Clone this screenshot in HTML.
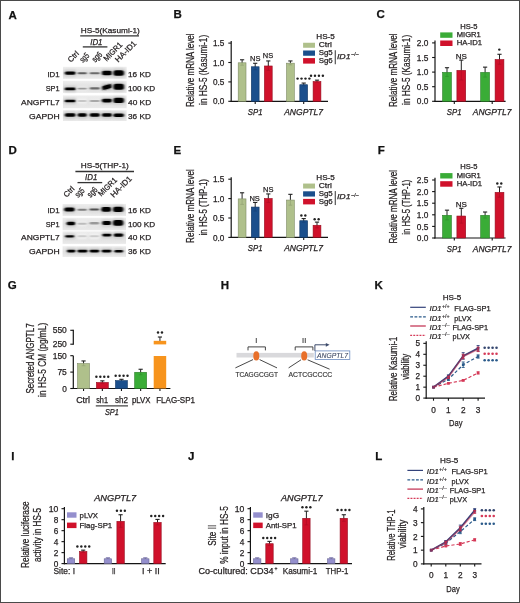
<!DOCTYPE html><html><head><meta charset="utf-8"><style>html,body{margin:0;padding:0;background:#fff;}svg{display:block;}text{font-family:"Liberation Sans",sans-serif;}</style></head><body>
<svg width="520" height="603" viewBox="0 0 520 603">
<defs>
<filter id="bandblur" x="-30%" y="-150%" width="160%" height="400%"><feGaussianBlur stdDeviation="0.9 0.6"/></filter>
<filter id="haloblur" x="-30%" y="-100%" width="160%" height="300%"><feGaussianBlur stdDeviation="1.2"/></filter>
<filter id="soft" x="-5%" y="-20%" width="110%" height="140%"><feGaussianBlur stdDeviation="0.5"/></filter>
<linearGradient id="stripg" x1="0" y1="0" x2="0" y2="1"><stop offset="0" stop-color="#eeeeee"/><stop offset="0.5" stop-color="#e0e0e0"/><stop offset="1" stop-color="#eaeaea"/></linearGradient>
</defs>
<rect x="0" y="0" width="520" height="603" fill="#fff"/><g style="filter:blur(0.3px)">
<text x="8.40" y="18.60" font-size="11.5" fill="#111" stroke="#111" stroke-width="0.25" font-weight="bold">A</text>
<text x="173.60" y="18.40" font-size="11.5" fill="#111" stroke="#111" stroke-width="0.25" font-weight="bold">B</text>
<text x="376.50" y="18.40" font-size="11.5" fill="#111" stroke="#111" stroke-width="0.25" font-weight="bold">C</text>
<text x="8.40" y="154.00" font-size="11.5" fill="#111" stroke="#111" stroke-width="0.25" font-weight="bold">D</text>
<text x="173.60" y="154.00" font-size="11.5" fill="#111" stroke="#111" stroke-width="0.25" font-weight="bold">E</text>
<text x="377.80" y="154.00" font-size="11.5" fill="#111" stroke="#111" stroke-width="0.25" font-weight="bold">F</text>
<text x="7.80" y="288.80" font-size="11.5" fill="#111" stroke="#111" stroke-width="0.25" font-weight="bold">G</text>
<text x="220.80" y="288.80" font-size="11.5" fill="#111" stroke="#111" stroke-width="0.25" font-weight="bold">H</text>
<text x="374.60" y="288.80" font-size="11.5" fill="#111" stroke="#111" stroke-width="0.25" font-weight="bold">K</text>
<text x="11.20" y="460.40" font-size="11.5" fill="#111" stroke="#111" stroke-width="0.25" font-weight="bold">I</text>
<text x="188.00" y="460.40" font-size="11.5" fill="#111" stroke="#111" stroke-width="0.25" font-weight="bold">J</text>
<text x="375.20" y="460.40" font-size="11.5" fill="#111" stroke="#111" stroke-width="0.25" font-weight="bold">L</text>
<text x="80.80" y="32.50" font-size="8" fill="#231f20" stroke="#231f20" stroke-width="0.25" textLength="59.00" lengthAdjust="spacingAndGlyphs">HS-5(Kasumi-1)</text>
<line x1="80.20" y1="35.80" x2="139.00" y2="35.80" stroke="#333" stroke-width="1.3" />
<text x="90.20" y="44.60" font-size="8.8" fill="#231f20" stroke="#231f20" stroke-width="0.25" font-style="italic" textLength="12.30" lengthAdjust="spacingAndGlyphs">ID1</text>
<line x1="82.80" y1="46.90" x2="107.40" y2="46.90" stroke="#333" stroke-width="1.3" />
<text x="70.80" y="62.65" font-size="7.6" fill="#231f20" stroke="#231f20" stroke-width="0.25" textLength="12.11" lengthAdjust="spacingAndGlyphs" transform="rotate(-45 70.80 62.65)">Ctrl</text>
<text x="82.95" y="63.00" font-size="8.6" fill="#231f20" stroke="#231f20" stroke-width="0.25" textLength="9.68" lengthAdjust="spacingAndGlyphs" transform="rotate(-45 82.95 63.00)">sg5</text>
<text x="95.25" y="62.70" font-size="8.8" fill="#231f20" stroke="#231f20" stroke-width="0.25" textLength="10.70" lengthAdjust="spacingAndGlyphs" transform="rotate(-45 95.25 62.70)">sg6</text>
<text x="106.70" y="61.65" font-size="8.0" fill="#231f20" stroke="#231f20" stroke-width="0.25" textLength="22.90" lengthAdjust="spacingAndGlyphs" transform="rotate(-45 106.70 61.65)">MIGR1</text>
<text x="118.30" y="62.70" font-size="8.0" fill="#231f20" stroke="#231f20" stroke-width="0.25" textLength="26.45" lengthAdjust="spacingAndGlyphs" transform="rotate(-45 118.30 62.70)">HA-ID1</text>
<rect x="63.00" y="66.80" width="63.60" height="12.00" fill="url(#stripg)" filter="url(#soft)"/>
<rect x="64.00" y="69.80" width="12.40" height="6.60" rx="2" fill="rgb(204,204,204)" filter="url(#haloblur)"/>
<rect x="64.80" y="71.40" width="10.80" height="3.40" rx="1.70" fill="rgb(0,0,0)" filter="url(#bandblur)"/>
<rect x="76.80" y="70.65" width="10.80" height="5.10" rx="2" fill="rgb(223,223,223)" filter="url(#haloblur)"/>
<rect x="77.60" y="72.25" width="9.20" height="1.90" rx="0.95" fill="rgb(96,96,96)" filter="url(#bandblur)"/>
<rect x="88.90" y="70.60" width="11.80" height="5.20" rx="2" fill="rgb(225,225,225)" filter="url(#haloblur)"/>
<rect x="89.70" y="72.20" width="10.20" height="2.00" rx="1.00" fill="rgb(107,107,107)" filter="url(#bandblur)"/>
<rect x="101.10" y="69.20" width="11.90" height="7.60" rx="2" fill="rgb(204,204,204)" filter="url(#haloblur)"/>
<rect x="101.90" y="70.80" width="10.30" height="4.40" rx="2.20" fill="rgb(0,0,0)" filter="url(#bandblur)"/>
<rect x="112.60" y="68.60" width="12.20" height="8.80" rx="2" fill="rgb(204,204,204)" filter="url(#haloblur)"/>
<rect x="113.40" y="70.20" width="10.60" height="5.60" rx="2.50" fill="rgb(0,0,0)" filter="url(#bandblur)"/>
<text x="59.60" y="77.20" font-size="8" text-anchor="end" fill="#231f20" stroke="#231f20" stroke-width="0.25" textLength="12.20" lengthAdjust="spacingAndGlyphs">ID1</text>
<text x="128.00" y="77.20" font-size="8" fill="#231f20" stroke="#231f20" stroke-width="0.25" textLength="22.80" lengthAdjust="spacingAndGlyphs">16 KD</text>
<rect x="63.00" y="80.80" width="63.60" height="12.10" fill="url(#stripg)" filter="url(#soft)"/>
<rect x="64.00" y="85.90" width="12.40" height="6.00" rx="2" fill="rgb(204,204,204)" filter="url(#haloblur)"/>
<rect x="64.80" y="87.50" width="10.80" height="2.80" rx="1.40" fill="rgb(0,0,0)" filter="url(#bandblur)"/>
<rect x="76.80" y="86.05" width="10.80" height="5.10" rx="2" fill="rgb(234,234,234)" filter="url(#haloblur)"/>
<rect x="77.60" y="87.65" width="9.20" height="1.90" rx="0.95" fill="rgb(153,153,153)" filter="url(#bandblur)"/>
<rect x="88.90" y="85.65" width="11.80" height="5.50" rx="2" fill="rgb(225,225,225)" filter="url(#haloblur)"/>
<rect x="89.70" y="87.25" width="10.20" height="2.30" rx="1.15" fill="rgb(107,107,107)" filter="url(#bandblur)"/>
<rect x="101.10" y="83.20" width="11.90" height="7.60" rx="2" fill="rgb(204,204,204)" filter="url(#haloblur)"/>
<rect x="101.90" y="84.80" width="10.30" height="4.40" rx="2.20" fill="rgb(0,0,0)" filter="url(#bandblur)" transform="rotate(-15.2 107.05 87.00)"/>
<rect x="112.60" y="82.20" width="12.20" height="9.20" rx="2" fill="rgb(204,204,204)" filter="url(#haloblur)"/>
<rect x="113.40" y="83.80" width="10.60" height="6.00" rx="2.50" fill="rgb(0,0,0)" filter="url(#bandblur)"/>
<text x="59.60" y="90.90" font-size="8" text-anchor="end" fill="#231f20" stroke="#231f20" stroke-width="0.25" textLength="13.90" lengthAdjust="spacingAndGlyphs">SP1</text>
<text x="128.00" y="90.90" font-size="8" fill="#231f20" stroke="#231f20" stroke-width="0.25" textLength="27.20" lengthAdjust="spacingAndGlyphs">100 KD</text>
<rect x="63.00" y="95.40" width="63.60" height="12.80" fill="url(#stripg)" filter="url(#soft)"/>
<rect x="64.00" y="98.10" width="12.40" height="5.80" rx="2" fill="rgb(204,204,204)" filter="url(#haloblur)"/>
<rect x="64.80" y="99.70" width="10.80" height="2.60" rx="1.30" fill="rgb(0,0,0)" filter="url(#bandblur)"/>
<rect x="76.80" y="98.50" width="10.80" height="5.00" rx="2" fill="rgb(243,243,243)" filter="url(#haloblur)"/>
<rect x="77.60" y="100.10" width="9.20" height="1.80" rx="0.90" fill="rgb(198,198,198)" filter="url(#bandblur)"/>
<rect x="88.90" y="98.30" width="11.80" height="5.20" rx="2" fill="rgb(237,237,237)" filter="url(#haloblur)"/>
<rect x="89.70" y="99.90" width="10.20" height="2.00" rx="1.00" fill="rgb(168,168,168)" filter="url(#bandblur)"/>
<rect x="101.10" y="97.20" width="11.90" height="6.80" rx="2" fill="rgb(204,204,204)" filter="url(#haloblur)"/>
<rect x="101.90" y="98.80" width="10.30" height="3.60" rx="1.80" fill="rgb(0,0,0)" filter="url(#bandblur)"/>
<rect x="112.60" y="96.20" width="12.20" height="8.40" rx="2" fill="rgb(204,204,204)" filter="url(#haloblur)"/>
<rect x="113.40" y="97.80" width="10.60" height="5.20" rx="2.50" fill="rgb(0,0,0)" filter="url(#bandblur)"/>
<text x="59.60" y="104.70" font-size="8" text-anchor="end" fill="#231f20" stroke="#231f20" stroke-width="0.25" textLength="38.50" lengthAdjust="spacingAndGlyphs">ANGPTL7</text>
<text x="128.00" y="104.70" font-size="8" fill="#231f20" stroke="#231f20" stroke-width="0.25" textLength="23.20" lengthAdjust="spacingAndGlyphs">40 KD</text>
<rect x="63.00" y="110.20" width="63.60" height="10.80" fill="url(#stripg)" filter="url(#soft)"/>
<rect x="64.00" y="111.60" width="12.40" height="6.80" rx="2" fill="rgb(204,204,204)" filter="url(#haloblur)"/>
<rect x="64.80" y="113.20" width="10.80" height="3.60" rx="1.80" fill="rgb(0,0,0)" filter="url(#bandblur)"/>
<rect x="76.80" y="111.60" width="10.80" height="6.80" rx="2" fill="rgb(204,204,204)" filter="url(#haloblur)"/>
<rect x="77.60" y="113.20" width="9.20" height="3.60" rx="1.80" fill="rgb(0,0,0)" filter="url(#bandblur)"/>
<rect x="88.90" y="111.60" width="11.80" height="6.80" rx="2" fill="rgb(204,204,204)" filter="url(#haloblur)"/>
<rect x="89.70" y="113.20" width="10.20" height="3.60" rx="1.80" fill="rgb(0,0,0)" filter="url(#bandblur)"/>
<rect x="101.10" y="111.60" width="11.90" height="6.80" rx="2" fill="rgb(204,204,204)" filter="url(#haloblur)"/>
<rect x="101.90" y="113.20" width="10.30" height="3.60" rx="1.80" fill="rgb(0,0,0)" filter="url(#bandblur)"/>
<rect x="112.60" y="111.80" width="12.20" height="6.80" rx="2" fill="rgb(204,204,204)" filter="url(#haloblur)"/>
<rect x="113.40" y="113.40" width="10.60" height="3.60" rx="1.80" fill="rgb(0,0,0)" filter="url(#bandblur)"/>
<text x="59.60" y="118.50" font-size="8" text-anchor="end" fill="#231f20" stroke="#231f20" stroke-width="0.25" textLength="30.50" lengthAdjust="spacingAndGlyphs">GAPDH</text>
<text x="128.00" y="118.50" font-size="8" fill="#231f20" stroke="#231f20" stroke-width="0.25" textLength="22.80" lengthAdjust="spacingAndGlyphs">36 KD</text>
<text x="80.80" y="168.20" font-size="8" fill="#231f20" stroke="#231f20" stroke-width="0.25" textLength="48.00" lengthAdjust="spacingAndGlyphs">HS-5(THP-1)</text>
<line x1="75.40" y1="171.50" x2="134.00" y2="171.50" stroke="#333" stroke-width="1.3" />
<text x="85.00" y="180.30" font-size="8.8" fill="#231f20" stroke="#231f20" stroke-width="0.25" font-style="italic" textLength="12.30" lengthAdjust="spacingAndGlyphs">ID1</text>
<line x1="77.50" y1="182.60" x2="102.20" y2="182.60" stroke="#333" stroke-width="1.3" />
<text x="66.50" y="197.85" font-size="7.6" fill="#231f20" stroke="#231f20" stroke-width="0.25" textLength="12.11" lengthAdjust="spacingAndGlyphs" transform="rotate(-45 66.50 197.85)">Ctrl</text>
<text x="78.25" y="197.90" font-size="8.6" fill="#231f20" stroke="#231f20" stroke-width="0.25" textLength="9.68" lengthAdjust="spacingAndGlyphs" transform="rotate(-45 78.25 197.90)">sg5</text>
<text x="90.55" y="197.90" font-size="8.8" fill="#231f20" stroke="#231f20" stroke-width="0.25" textLength="10.70" lengthAdjust="spacingAndGlyphs" transform="rotate(-45 90.55 197.90)">sg6</text>
<text x="101.30" y="196.85" font-size="8.0" fill="#231f20" stroke="#231f20" stroke-width="0.25" textLength="22.90" lengthAdjust="spacingAndGlyphs" transform="rotate(-45 101.30 196.85)">MIGR1</text>
<text x="113.70" y="197.90" font-size="8.0" fill="#231f20" stroke="#231f20" stroke-width="0.25" textLength="26.45" lengthAdjust="spacingAndGlyphs" transform="rotate(-45 113.70 197.90)">HA-ID1</text>
<rect x="62.60" y="204.00" width="63.40" height="11.90" fill="url(#stripg)" filter="url(#soft)"/>
<rect x="63.50" y="206.00" width="11.90" height="7.20" rx="2" fill="rgb(204,204,204)" filter="url(#haloblur)"/>
<rect x="64.30" y="207.60" width="10.30" height="4.00" rx="2.00" fill="rgb(0,0,0)" filter="url(#bandblur)"/>
<rect x="76.70" y="207.15" width="10.90" height="5.10" rx="2" fill="rgb(229,229,229)" filter="url(#haloblur)"/>
<rect x="77.50" y="208.75" width="9.30" height="1.90" rx="0.95" fill="rgb(127,127,127)" filter="url(#bandblur)"/>
<rect x="88.70" y="206.80" width="11.30" height="5.40" rx="2" fill="rgb(220,220,220)" filter="url(#haloblur)"/>
<rect x="89.50" y="208.40" width="9.70" height="2.20" rx="1.10" fill="rgb(81,81,81)" filter="url(#bandblur)"/>
<rect x="100.50" y="205.40" width="11.60" height="8.00" rx="2" fill="rgb(204,204,204)" filter="url(#haloblur)"/>
<rect x="101.30" y="207.00" width="10.00" height="4.80" rx="2.40" fill="rgb(0,0,0)" filter="url(#bandblur)"/>
<rect x="112.20" y="205.10" width="11.90" height="8.40" rx="2" fill="rgb(204,204,204)" filter="url(#haloblur)"/>
<rect x="113.00" y="206.70" width="10.30" height="5.20" rx="2.50" fill="rgb(0,0,0)" filter="url(#bandblur)"/>
<text x="59.60" y="212.90" font-size="8" text-anchor="end" fill="#231f20" stroke="#231f20" stroke-width="0.25" textLength="12.20" lengthAdjust="spacingAndGlyphs">ID1</text>
<text x="128.00" y="212.90" font-size="8" fill="#231f20" stroke="#231f20" stroke-width="0.25" textLength="22.80" lengthAdjust="spacingAndGlyphs">16 KD</text>
<rect x="62.60" y="217.80" width="63.40" height="12.50" fill="url(#stripg)" filter="url(#soft)"/>
<rect x="65.80" y="220.10" width="10.20" height="6.80" rx="2" fill="rgb(204,204,204)" filter="url(#haloblur)"/>
<rect x="66.60" y="221.70" width="8.60" height="3.60" rx="1.80" fill="rgb(0,0,0)" filter="url(#bandblur)"/>
<rect x="76.70" y="221.15" width="10.90" height="5.10" rx="2" fill="rgb(241,241,241)" filter="url(#haloblur)"/>
<rect x="77.50" y="222.75" width="9.30" height="1.90" rx="0.95" fill="rgb(188,188,188)" filter="url(#bandblur)"/>
<rect x="88.70" y="220.40" width="11.30" height="5.80" rx="2" fill="rgb(234,234,234)" filter="url(#haloblur)"/>
<rect x="89.50" y="222.00" width="9.70" height="2.60" rx="1.30" fill="rgb(153,153,153)" filter="url(#bandblur)"/>
<rect x="101.40" y="219.50" width="10.70" height="7.20" rx="2" fill="rgb(204,204,204)" filter="url(#haloblur)"/>
<rect x="102.20" y="221.10" width="9.10" height="4.00" rx="2.00" fill="rgb(0,0,0)" filter="url(#bandblur)"/>
<rect x="112.20" y="218.50" width="11.90" height="8.80" rx="2" fill="rgb(204,204,204)" filter="url(#haloblur)"/>
<rect x="113.00" y="220.10" width="10.30" height="5.60" rx="2.50" fill="rgb(0,0,0)" filter="url(#bandblur)"/>
<text x="59.60" y="226.60" font-size="8" text-anchor="end" fill="#231f20" stroke="#231f20" stroke-width="0.25" textLength="13.90" lengthAdjust="spacingAndGlyphs">SP1</text>
<text x="128.00" y="226.60" font-size="8" fill="#231f20" stroke="#231f20" stroke-width="0.25" textLength="27.20" lengthAdjust="spacingAndGlyphs">100 KD</text>
<rect x="62.60" y="231.40" width="63.40" height="12.50" fill="url(#stripg)" filter="url(#soft)"/>
<rect x="64.40" y="233.55" width="10.60" height="5.50" rx="2" fill="rgb(204,204,204)" filter="url(#haloblur)"/>
<rect x="65.20" y="235.15" width="9.00" height="2.30" rx="1.15" fill="rgb(0,0,0)" filter="url(#bandblur)"/>
<rect x="76.70" y="233.70" width="10.90" height="5.20" rx="2" fill="rgb(244,244,244)" filter="url(#haloblur)"/>
<rect x="77.50" y="235.30" width="9.30" height="2.00" rx="1.00" fill="rgb(204,204,204)" filter="url(#bandblur)"/>
<rect x="88.70" y="233.70" width="11.30" height="5.20" rx="2" fill="rgb(244,244,244)" filter="url(#haloblur)"/>
<rect x="89.50" y="235.30" width="9.70" height="2.00" rx="1.00" fill="rgb(204,204,204)" filter="url(#bandblur)"/>
<rect x="101.60" y="232.20" width="10.60" height="5.80" rx="2" fill="rgb(204,204,204)" filter="url(#haloblur)"/>
<rect x="102.40" y="233.80" width="9.00" height="2.60" rx="1.30" fill="rgb(0,0,0)" filter="url(#bandblur)"/>
<rect x="113.00" y="231.90" width="11.10" height="6.40" rx="2" fill="rgb(204,204,204)" filter="url(#haloblur)"/>
<rect x="113.80" y="233.50" width="9.50" height="3.20" rx="1.60" fill="rgb(0,0,0)" filter="url(#bandblur)"/>
<text x="59.60" y="240.40" font-size="8" text-anchor="end" fill="#231f20" stroke="#231f20" stroke-width="0.25" textLength="38.50" lengthAdjust="spacingAndGlyphs">ANGPTL7</text>
<text x="128.00" y="240.40" font-size="8" fill="#231f20" stroke="#231f20" stroke-width="0.25" textLength="23.20" lengthAdjust="spacingAndGlyphs">40 KD</text>
<rect x="62.60" y="246.20" width="63.40" height="10.70" fill="url(#stripg)" filter="url(#soft)"/>
<rect x="66.20" y="248.10" width="10.10" height="6.00" rx="2" fill="rgb(204,204,204)" filter="url(#haloblur)"/>
<rect x="67.00" y="249.70" width="8.50" height="2.80" rx="1.40" fill="rgb(0,0,0)" filter="url(#bandblur)"/>
<rect x="76.70" y="248.10" width="11.70" height="6.00" rx="2" fill="rgb(204,204,204)" filter="url(#haloblur)"/>
<rect x="77.50" y="249.70" width="10.10" height="2.80" rx="1.40" fill="rgb(0,0,0)" filter="url(#bandblur)"/>
<rect x="88.80" y="248.10" width="11.30" height="6.00" rx="2" fill="rgb(204,204,204)" filter="url(#haloblur)"/>
<rect x="89.60" y="249.70" width="9.70" height="2.80" rx="1.40" fill="rgb(0,0,0)" filter="url(#bandblur)"/>
<rect x="100.90" y="248.10" width="11.30" height="6.00" rx="2" fill="rgb(204,204,204)" filter="url(#haloblur)"/>
<rect x="101.70" y="249.70" width="9.70" height="2.80" rx="1.40" fill="rgb(0,0,0)" filter="url(#bandblur)"/>
<rect x="113.70" y="248.40" width="10.10" height="5.60" rx="2" fill="rgb(204,204,204)" filter="url(#haloblur)"/>
<rect x="114.50" y="250.00" width="8.50" height="2.40" rx="1.20" fill="rgb(0,0,0)" filter="url(#bandblur)"/>
<text x="59.60" y="254.20" font-size="8" text-anchor="end" fill="#231f20" stroke="#231f20" stroke-width="0.25" textLength="30.50" lengthAdjust="spacingAndGlyphs">GAPDH</text>
<text x="128.00" y="254.20" font-size="8" fill="#231f20" stroke="#231f20" stroke-width="0.25" textLength="22.80" lengthAdjust="spacingAndGlyphs">36 KD</text>
<line x1="231.20" y1="41.10" x2="231.20" y2="101.90" stroke="#141414" stroke-width="1.2" />
<line x1="228.30" y1="101.30" x2="231.20" y2="101.30" stroke="#141414" stroke-width="1.1" />
<text x="224.40" y="104.40" font-size="8.6" text-anchor="end" fill="#231f20" stroke="#231f20" stroke-width="0.25" textLength="11.40" lengthAdjust="spacingAndGlyphs">0.0</text>
<line x1="228.30" y1="81.90" x2="231.20" y2="81.90" stroke="#141414" stroke-width="1.1" />
<text x="224.40" y="85.00" font-size="8.6" text-anchor="end" fill="#231f20" stroke="#231f20" stroke-width="0.25" textLength="11.40" lengthAdjust="spacingAndGlyphs">0.5</text>
<line x1="228.30" y1="62.50" x2="231.20" y2="62.50" stroke="#141414" stroke-width="1.1" />
<text x="224.40" y="65.60" font-size="8.6" text-anchor="end" fill="#231f20" stroke="#231f20" stroke-width="0.25" textLength="11.40" lengthAdjust="spacingAndGlyphs">1.0</text>
<line x1="228.30" y1="43.10" x2="231.20" y2="43.10" stroke="#141414" stroke-width="1.1" />
<text x="224.40" y="46.20" font-size="8.6" text-anchor="end" fill="#231f20" stroke="#231f20" stroke-width="0.25" textLength="11.40" lengthAdjust="spacingAndGlyphs">1.5</text>
<line x1="230.60" y1="101.30" x2="328.00" y2="101.30" stroke="#141414" stroke-width="1.2" />
<line x1="255.20" y1="101.30" x2="255.20" y2="103.90" stroke="#141414" stroke-width="1.1" />
<line x1="303.70" y1="101.30" x2="303.70" y2="103.90" stroke="#141414" stroke-width="1.1" />
<line x1="242.10" y1="63.00" x2="242.10" y2="59.78" stroke="#222" stroke-width="1.0" />
<line x1="240.00" y1="59.78" x2="244.20" y2="59.78" stroke="#222" stroke-width="1.1" />
<rect x="238.20" y="62.80" width="7.80" height="38.50" fill="#afc08b" stroke="#7e8a64" stroke-width="0.6"/>
<line x1="242.10" y1="62.50" x2="242.10" y2="65.22" stroke="#96a577" stroke-width="0.8" />
<line x1="240.30" y1="65.22" x2="243.90" y2="65.22" stroke="#96a577" stroke-width="0.8" />
<line x1="255.20" y1="66.96" x2="255.20" y2="63.28" stroke="#222" stroke-width="1.0" />
<line x1="253.10" y1="63.28" x2="257.30" y2="63.28" stroke="#222" stroke-width="1.1" />
<rect x="251.30" y="66.76" width="7.80" height="34.54" fill="#1b4f8c" stroke="#133864" stroke-width="0.6"/>
<line x1="255.20" y1="66.46" x2="255.20" y2="69.64" stroke="#174378" stroke-width="0.8" />
<line x1="253.40" y1="69.64" x2="257.00" y2="69.64" stroke="#174378" stroke-width="0.8" />
<line x1="268.30" y1="66.18" x2="268.30" y2="60.95" stroke="#222" stroke-width="1.0" />
<line x1="266.20" y1="60.95" x2="270.40" y2="60.95" stroke="#222" stroke-width="1.1" />
<rect x="264.40" y="65.98" width="7.80" height="35.32" fill="#d0112b" stroke="#950c1e" stroke-width="0.6"/>
<line x1="268.30" y1="65.68" x2="268.30" y2="70.42" stroke="#b20e24" stroke-width="0.8" />
<line x1="266.50" y1="70.42" x2="270.10" y2="70.42" stroke="#b20e24" stroke-width="0.8" />
<line x1="290.40" y1="63.39" x2="290.40" y2="60.95" stroke="#222" stroke-width="1.0" />
<line x1="288.30" y1="60.95" x2="292.50" y2="60.95" stroke="#222" stroke-width="1.1" />
<rect x="286.50" y="63.19" width="7.80" height="38.11" fill="#afc08b" stroke="#7e8a64" stroke-width="0.6"/>
<line x1="290.40" y1="62.89" x2="290.40" y2="64.83" stroke="#96a577" stroke-width="0.8" />
<line x1="288.60" y1="64.83" x2="292.20" y2="64.83" stroke="#96a577" stroke-width="0.8" />
<line x1="303.70" y1="84.92" x2="303.70" y2="83.06" stroke="#222" stroke-width="1.0" />
<line x1="301.60" y1="83.06" x2="305.80" y2="83.06" stroke="#222" stroke-width="1.1" />
<rect x="299.80" y="84.72" width="7.80" height="16.58" fill="#1b4f8c" stroke="#133864" stroke-width="0.6"/>
<line x1="303.70" y1="84.42" x2="303.70" y2="85.78" stroke="#174378" stroke-width="0.8" />
<line x1="301.90" y1="85.78" x2="305.50" y2="85.78" stroke="#174378" stroke-width="0.8" />
<line x1="317.00" y1="81.74" x2="317.00" y2="80.15" stroke="#222" stroke-width="1.0" />
<line x1="314.90" y1="80.15" x2="319.10" y2="80.15" stroke="#222" stroke-width="1.1" />
<rect x="313.10" y="81.54" width="7.80" height="19.76" fill="#d0112b" stroke="#950c1e" stroke-width="0.6"/>
<line x1="317.00" y1="81.24" x2="317.00" y2="82.33" stroke="#b20e24" stroke-width="0.8" />
<line x1="315.20" y1="82.33" x2="318.80" y2="82.33" stroke="#b20e24" stroke-width="0.8" />
<text x="255.20" y="115.20" font-size="8.5" text-anchor="middle" fill="#231f20" stroke="#231f20" stroke-width="0.25" font-style="italic" textLength="14.70" lengthAdjust="spacingAndGlyphs">SP1</text>
<text x="303.60" y="115.20" font-size="8.5" text-anchor="middle" fill="#231f20" stroke="#231f20" stroke-width="0.25" font-style="italic" textLength="38.80" lengthAdjust="spacingAndGlyphs">ANGPTL7</text>
<text x="193.60" y="107.00" font-size="10" fill="#231f20" stroke="#231f20" stroke-width="0.25" textLength="73.60" lengthAdjust="spacingAndGlyphs" transform="rotate(-90 193.60 107.00)">Relative mRNA level</text>
<text x="206.60" y="104.90" font-size="10" fill="#231f20" stroke="#231f20" stroke-width="0.25" textLength="70.10" lengthAdjust="spacingAndGlyphs" transform="rotate(-90 206.60 104.90)">in HS-5 (Kasumi-1)</text>
<text x="255.20" y="60.50" font-size="7.6" text-anchor="middle" fill="#231f20" stroke="#231f20" stroke-width="0.25" textLength="10.40" lengthAdjust="spacingAndGlyphs">NS</text>
<text x="268.00" y="57.80" font-size="7.6" text-anchor="middle" fill="#231f20" stroke="#231f20" stroke-width="0.25" textLength="10.40" lengthAdjust="spacingAndGlyphs">NS</text>
<circle cx="297.57" cy="78.60" r="1.22" fill="#222"/>
<circle cx="301.52" cy="78.60" r="1.22" fill="#222"/>
<circle cx="305.48" cy="78.60" r="1.22" fill="#222"/>
<circle cx="309.43" cy="78.60" r="1.22" fill="#222"/>
<circle cx="311.02" cy="75.75" r="1.22" fill="#222"/>
<circle cx="314.97" cy="75.75" r="1.22" fill="#222"/>
<circle cx="318.93" cy="75.75" r="1.22" fill="#222"/>
<circle cx="322.88" cy="75.75" r="1.22" fill="#222"/>
<text x="316.30" y="39.30" font-size="7.4" fill="#231f20" stroke="#231f20" stroke-width="0.25" textLength="18.50" lengthAdjust="spacingAndGlyphs">HS-5</text>
<rect x="303.10" y="42.75" width="11.90" height="5.00" fill="#afc08b" />
<rect x="303.10" y="50.50" width="11.90" height="5.25" fill="#1b4f8c" />
<rect x="303.10" y="58.10" width="11.90" height="5.50" fill="#d0112b" />
<text x="318.75" y="47.40" font-size="7.4" fill="#231f20" stroke="#231f20" stroke-width="0.25" textLength="13.10" lengthAdjust="spacingAndGlyphs">Ctrl</text>
<text x="318.75" y="55.25" font-size="7.4" fill="#231f20" stroke="#231f20" stroke-width="0.25" textLength="14.00" lengthAdjust="spacingAndGlyphs">Sg5</text>
<text x="318.75" y="62.90" font-size="7.4" fill="#231f20" stroke="#231f20" stroke-width="0.25" textLength="14.00" lengthAdjust="spacingAndGlyphs">Sg6</text>
<line x1="335.25" y1="50.25" x2="335.25" y2="64.25" stroke="#333" stroke-width="1.0" />
<text x="336.90" y="58.60" font-size="7.6" fill="#231f20" stroke="#231f20" stroke-width="0.25" font-style="italic" textLength="13.70" lengthAdjust="spacingAndGlyphs">ID1</text>
<text x="351.30" y="56.00" font-size="4.6" fill="#231f20" stroke="#231f20" stroke-width="0.15" textLength="7.40" lengthAdjust="spacingAndGlyphs">–/–</text>
<line x1="231.20" y1="177.20" x2="231.20" y2="238.00" stroke="#141414" stroke-width="1.2" />
<line x1="228.30" y1="237.40" x2="231.20" y2="237.40" stroke="#141414" stroke-width="1.1" />
<text x="224.40" y="240.50" font-size="8.6" text-anchor="end" fill="#231f20" stroke="#231f20" stroke-width="0.25" textLength="11.40" lengthAdjust="spacingAndGlyphs">0.0</text>
<line x1="228.30" y1="218.00" x2="231.20" y2="218.00" stroke="#141414" stroke-width="1.1" />
<text x="224.40" y="221.10" font-size="8.6" text-anchor="end" fill="#231f20" stroke="#231f20" stroke-width="0.25" textLength="11.40" lengthAdjust="spacingAndGlyphs">0.5</text>
<line x1="228.30" y1="198.60" x2="231.20" y2="198.60" stroke="#141414" stroke-width="1.1" />
<text x="224.40" y="201.70" font-size="8.6" text-anchor="end" fill="#231f20" stroke="#231f20" stroke-width="0.25" textLength="11.40" lengthAdjust="spacingAndGlyphs">1.0</text>
<line x1="228.30" y1="179.20" x2="231.20" y2="179.20" stroke="#141414" stroke-width="1.1" />
<text x="224.40" y="182.30" font-size="8.6" text-anchor="end" fill="#231f20" stroke="#231f20" stroke-width="0.25" textLength="11.40" lengthAdjust="spacingAndGlyphs">1.5</text>
<line x1="230.60" y1="237.40" x2="328.00" y2="237.40" stroke="#141414" stroke-width="1.2" />
<line x1="255.20" y1="237.40" x2="255.20" y2="240.00" stroke="#141414" stroke-width="1.1" />
<line x1="303.70" y1="237.40" x2="303.70" y2="240.00" stroke="#141414" stroke-width="1.1" />
<line x1="242.10" y1="199.10" x2="242.10" y2="192.78" stroke="#222" stroke-width="1.0" />
<line x1="240.00" y1="192.78" x2="244.20" y2="192.78" stroke="#222" stroke-width="1.1" />
<rect x="238.20" y="198.90" width="7.80" height="38.50" fill="#afc08b" stroke="#7e8a64" stroke-width="0.6"/>
<line x1="242.10" y1="198.60" x2="242.10" y2="204.42" stroke="#96a577" stroke-width="0.8" />
<line x1="240.30" y1="204.42" x2="243.90" y2="204.42" stroke="#96a577" stroke-width="0.8" />
<line x1="255.20" y1="207.25" x2="255.20" y2="202.48" stroke="#222" stroke-width="1.0" />
<line x1="253.10" y1="202.48" x2="257.30" y2="202.48" stroke="#222" stroke-width="1.1" />
<rect x="251.30" y="207.05" width="7.80" height="30.35" fill="#1b4f8c" stroke="#133864" stroke-width="0.6"/>
<line x1="255.20" y1="206.75" x2="255.20" y2="211.02" stroke="#174378" stroke-width="0.8" />
<line x1="253.40" y1="211.02" x2="257.00" y2="211.02" stroke="#174378" stroke-width="0.8" />
<line x1="268.30" y1="198.71" x2="268.30" y2="193.94" stroke="#222" stroke-width="1.0" />
<line x1="266.20" y1="193.94" x2="270.40" y2="193.94" stroke="#222" stroke-width="1.1" />
<rect x="264.40" y="198.51" width="7.80" height="38.89" fill="#d0112b" stroke="#950c1e" stroke-width="0.6"/>
<line x1="268.30" y1="198.21" x2="268.30" y2="202.48" stroke="#b20e24" stroke-width="0.8" />
<line x1="266.50" y1="202.48" x2="270.10" y2="202.48" stroke="#b20e24" stroke-width="0.8" />
<line x1="290.40" y1="200.26" x2="290.40" y2="194.33" stroke="#222" stroke-width="1.0" />
<line x1="288.30" y1="194.33" x2="292.50" y2="194.33" stroke="#222" stroke-width="1.1" />
<rect x="286.50" y="200.06" width="7.80" height="37.34" fill="#afc08b" stroke="#7e8a64" stroke-width="0.6"/>
<line x1="290.40" y1="199.76" x2="290.40" y2="205.20" stroke="#96a577" stroke-width="0.8" />
<line x1="288.60" y1="205.20" x2="292.20" y2="205.20" stroke="#96a577" stroke-width="0.8" />
<line x1="303.70" y1="220.91" x2="303.70" y2="218.58" stroke="#222" stroke-width="1.0" />
<line x1="301.60" y1="218.58" x2="305.80" y2="218.58" stroke="#222" stroke-width="1.1" />
<rect x="299.80" y="220.71" width="7.80" height="16.69" fill="#1b4f8c" stroke="#133864" stroke-width="0.6"/>
<line x1="303.70" y1="220.41" x2="303.70" y2="222.23" stroke="#174378" stroke-width="0.8" />
<line x1="301.90" y1="222.23" x2="305.50" y2="222.23" stroke="#174378" stroke-width="0.8" />
<line x1="317.00" y1="225.48" x2="317.00" y2="222.11" stroke="#222" stroke-width="1.0" />
<line x1="314.90" y1="222.11" x2="319.10" y2="222.11" stroke="#222" stroke-width="1.1" />
<rect x="313.10" y="225.28" width="7.80" height="12.12" fill="#d0112b" stroke="#950c1e" stroke-width="0.6"/>
<line x1="317.00" y1="224.98" x2="317.00" y2="227.86" stroke="#b20e24" stroke-width="0.8" />
<line x1="315.20" y1="227.86" x2="318.80" y2="227.86" stroke="#b20e24" stroke-width="0.8" />
<text x="255.20" y="251.10" font-size="8.5" text-anchor="middle" fill="#231f20" stroke="#231f20" stroke-width="0.25" font-style="italic" textLength="14.70" lengthAdjust="spacingAndGlyphs">SP1</text>
<text x="303.60" y="251.10" font-size="8.5" text-anchor="middle" fill="#231f20" stroke="#231f20" stroke-width="0.25" font-style="italic" textLength="38.80" lengthAdjust="spacingAndGlyphs">ANGPTL7</text>
<text x="193.60" y="242.90" font-size="10" fill="#231f20" stroke="#231f20" stroke-width="0.25" textLength="73.60" lengthAdjust="spacingAndGlyphs" transform="rotate(-90 193.60 242.90)">Relative mRNA level</text>
<text x="206.60" y="235.40" font-size="10" fill="#231f20" stroke="#231f20" stroke-width="0.25" textLength="56.40" lengthAdjust="spacingAndGlyphs" transform="rotate(-90 206.60 235.40)">in HS-5 (THP-1)</text>
<text x="254.60" y="201.20" font-size="7.6" text-anchor="middle" fill="#231f20" stroke="#231f20" stroke-width="0.25" textLength="10.40" lengthAdjust="spacingAndGlyphs">NS</text>
<text x="268.20" y="192.30" font-size="7.6" text-anchor="middle" fill="#231f20" stroke="#231f20" stroke-width="0.25" textLength="10.40" lengthAdjust="spacingAndGlyphs">NS</text>
<circle cx="301.38" cy="215.50" r="1.22" fill="#222"/>
<circle cx="305.33" cy="215.50" r="1.22" fill="#222"/>
<circle cx="314.67" cy="219.30" r="1.22" fill="#222"/>
<circle cx="318.62" cy="219.30" r="1.22" fill="#222"/>
<text x="316.30" y="180.10" font-size="7.4" fill="#231f20" stroke="#231f20" stroke-width="0.25" textLength="18.50" lengthAdjust="spacingAndGlyphs">HS-5</text>
<rect x="303.10" y="183.55" width="11.90" height="5.00" fill="#afc08b" />
<rect x="303.10" y="191.30" width="11.90" height="5.25" fill="#1b4f8c" />
<rect x="303.10" y="198.90" width="11.90" height="5.50" fill="#d0112b" />
<text x="318.75" y="188.20" font-size="7.4" fill="#231f20" stroke="#231f20" stroke-width="0.25" textLength="13.10" lengthAdjust="spacingAndGlyphs">Ctrl</text>
<text x="318.75" y="196.05" font-size="7.4" fill="#231f20" stroke="#231f20" stroke-width="0.25" textLength="14.00" lengthAdjust="spacingAndGlyphs">Sg5</text>
<text x="318.75" y="203.70" font-size="7.4" fill="#231f20" stroke="#231f20" stroke-width="0.25" textLength="14.00" lengthAdjust="spacingAndGlyphs">Sg6</text>
<line x1="335.25" y1="191.05" x2="335.25" y2="205.05" stroke="#333" stroke-width="1.0" />
<text x="336.90" y="199.40" font-size="7.6" fill="#231f20" stroke="#231f20" stroke-width="0.25" font-style="italic" textLength="13.70" lengthAdjust="spacingAndGlyphs">ID1</text>
<text x="351.30" y="196.80" font-size="4.6" fill="#231f20" stroke="#231f20" stroke-width="0.15" textLength="7.40" lengthAdjust="spacingAndGlyphs">–/–</text>
<line x1="435.00" y1="40.60" x2="435.00" y2="101.90" stroke="#141414" stroke-width="1.2" />
<line x1="432.10" y1="101.30" x2="435.00" y2="101.30" stroke="#141414" stroke-width="1.1" />
<text x="428.40" y="104.40" font-size="8.6" text-anchor="end" fill="#231f20" stroke="#231f20" stroke-width="0.25" textLength="11.60" lengthAdjust="spacingAndGlyphs">0.0</text>
<line x1="432.10" y1="86.70" x2="435.00" y2="86.70" stroke="#141414" stroke-width="1.1" />
<text x="428.40" y="89.80" font-size="8.6" text-anchor="end" fill="#231f20" stroke="#231f20" stroke-width="0.25" textLength="11.60" lengthAdjust="spacingAndGlyphs">0.5</text>
<line x1="432.10" y1="72.10" x2="435.00" y2="72.10" stroke="#141414" stroke-width="1.1" />
<text x="428.40" y="75.20" font-size="8.6" text-anchor="end" fill="#231f20" stroke="#231f20" stroke-width="0.25" textLength="11.60" lengthAdjust="spacingAndGlyphs">1.0</text>
<line x1="432.10" y1="57.50" x2="435.00" y2="57.50" stroke="#141414" stroke-width="1.1" />
<text x="428.40" y="60.60" font-size="8.6" text-anchor="end" fill="#231f20" stroke="#231f20" stroke-width="0.25" textLength="11.60" lengthAdjust="spacingAndGlyphs">1.5</text>
<line x1="432.10" y1="42.90" x2="435.00" y2="42.90" stroke="#141414" stroke-width="1.1" />
<text x="428.40" y="46.00" font-size="8.6" text-anchor="end" fill="#231f20" stroke="#231f20" stroke-width="0.25" textLength="11.60" lengthAdjust="spacingAndGlyphs">2.0</text>
<line x1="434.40" y1="101.30" x2="505.60" y2="101.30" stroke="#141414" stroke-width="1.2" />
<line x1="454.30" y1="101.30" x2="454.30" y2="103.90" stroke="#141414" stroke-width="1.1" />
<line x1="492.20" y1="101.30" x2="492.20" y2="103.90" stroke="#141414" stroke-width="1.1" />
<line x1="447.00" y1="72.60" x2="447.00" y2="67.72" stroke="#222" stroke-width="1.0" />
<line x1="444.90" y1="67.72" x2="449.10" y2="67.72" stroke="#222" stroke-width="1.1" />
<rect x="442.60" y="72.40" width="8.80" height="28.90" fill="#3aac37" stroke="#297b27" stroke-width="0.6"/>
<line x1="447.00" y1="72.10" x2="447.00" y2="76.48" stroke="#31932f" stroke-width="0.8" />
<line x1="445.20" y1="76.48" x2="448.80" y2="76.48" stroke="#31932f" stroke-width="0.8" />
<line x1="461.30" y1="70.56" x2="461.30" y2="60.13" stroke="#222" stroke-width="1.0" />
<line x1="459.20" y1="60.13" x2="463.40" y2="60.13" stroke="#222" stroke-width="1.1" />
<rect x="456.90" y="70.36" width="8.80" height="30.94" fill="#d0112b" stroke="#950c1e" stroke-width="0.6"/>
<line x1="461.30" y1="70.06" x2="461.30" y2="79.98" stroke="#b20e24" stroke-width="0.8" />
<line x1="459.50" y1="79.98" x2="463.10" y2="79.98" stroke="#b20e24" stroke-width="0.8" />
<line x1="485.10" y1="72.60" x2="485.10" y2="67.14" stroke="#222" stroke-width="1.0" />
<line x1="483.00" y1="67.14" x2="487.20" y2="67.14" stroke="#222" stroke-width="1.1" />
<rect x="480.70" y="72.40" width="8.80" height="28.90" fill="#3aac37" stroke="#297b27" stroke-width="0.6"/>
<line x1="485.10" y1="72.10" x2="485.10" y2="77.06" stroke="#31932f" stroke-width="0.8" />
<line x1="483.30" y1="77.06" x2="486.90" y2="77.06" stroke="#31932f" stroke-width="0.8" />
<line x1="499.50" y1="59.75" x2="499.50" y2="54.29" stroke="#222" stroke-width="1.0" />
<line x1="497.40" y1="54.29" x2="501.60" y2="54.29" stroke="#222" stroke-width="1.1" />
<rect x="495.10" y="59.55" width="8.80" height="41.75" fill="#d0112b" stroke="#950c1e" stroke-width="0.6"/>
<line x1="499.50" y1="59.25" x2="499.50" y2="64.22" stroke="#b20e24" stroke-width="0.8" />
<line x1="497.70" y1="64.22" x2="501.30" y2="64.22" stroke="#b20e24" stroke-width="0.8" />
<text x="454.20" y="115.20" font-size="8.5" text-anchor="middle" fill="#231f20" stroke="#231f20" stroke-width="0.25" font-style="italic" textLength="14.70" lengthAdjust="spacingAndGlyphs">SP1</text>
<text x="492.10" y="115.20" font-size="8.5" text-anchor="middle" fill="#231f20" stroke="#231f20" stroke-width="0.25" font-style="italic" textLength="38.60" lengthAdjust="spacingAndGlyphs">ANGPTL7</text>
<text x="397.30" y="107.00" font-size="10" fill="#231f20" stroke="#231f20" stroke-width="0.25" textLength="73.60" lengthAdjust="spacingAndGlyphs" transform="rotate(-90 397.30 107.00)">Relative mRNA level</text>
<text x="410.40" y="104.90" font-size="10" fill="#231f20" stroke="#231f20" stroke-width="0.25" textLength="70.10" lengthAdjust="spacingAndGlyphs" transform="rotate(-90 410.40 104.90)">in HS-5 (Kasumi-1)</text>
<text x="461.30" y="59.10" font-size="7.6" text-anchor="middle" fill="#231f20" stroke="#231f20" stroke-width="0.25" textLength="11.20" lengthAdjust="spacingAndGlyphs">NS</text>
<circle cx="499.30" cy="49.60" r="1.22" fill="#222"/>
<text x="460.20" y="28.60" font-size="7.4" fill="#231f20" stroke="#231f20" stroke-width="0.25" textLength="17.30" lengthAdjust="spacingAndGlyphs">HS-5</text>
<rect x="440.20" y="32.40" width="12.30" height="5.40" fill="#3aac37" />
<rect x="440.20" y="40.50" width="12.30" height="5.50" fill="#d0112b" />
<text x="456.80" y="37.40" font-size="7.0" fill="#231f20" stroke="#231f20" stroke-width="0.25" textLength="24.00" lengthAdjust="spacingAndGlyphs">MIGR1</text>
<text x="456.80" y="45.20" font-size="7.0" fill="#231f20" stroke="#231f20" stroke-width="0.25" textLength="25.20" lengthAdjust="spacingAndGlyphs">HA-ID1</text>
<line x1="435.00" y1="177.70" x2="435.00" y2="238.60" stroke="#141414" stroke-width="1.2" />
<line x1="432.10" y1="238.00" x2="435.00" y2="238.00" stroke="#141414" stroke-width="1.1" />
<text x="428.40" y="241.10" font-size="8.6" text-anchor="end" fill="#231f20" stroke="#231f20" stroke-width="0.25" textLength="11.60" lengthAdjust="spacingAndGlyphs">0.0</text>
<line x1="432.10" y1="226.40" x2="435.00" y2="226.40" stroke="#141414" stroke-width="1.1" />
<text x="428.40" y="229.50" font-size="8.6" text-anchor="end" fill="#231f20" stroke="#231f20" stroke-width="0.25" textLength="11.60" lengthAdjust="spacingAndGlyphs">0.5</text>
<line x1="432.10" y1="214.80" x2="435.00" y2="214.80" stroke="#141414" stroke-width="1.1" />
<text x="428.40" y="217.90" font-size="8.6" text-anchor="end" fill="#231f20" stroke="#231f20" stroke-width="0.25" textLength="11.60" lengthAdjust="spacingAndGlyphs">1.0</text>
<line x1="432.10" y1="203.20" x2="435.00" y2="203.20" stroke="#141414" stroke-width="1.1" />
<text x="428.40" y="206.30" font-size="8.6" text-anchor="end" fill="#231f20" stroke="#231f20" stroke-width="0.25" textLength="11.60" lengthAdjust="spacingAndGlyphs">1.5</text>
<line x1="432.10" y1="191.60" x2="435.00" y2="191.60" stroke="#141414" stroke-width="1.1" />
<text x="428.40" y="194.70" font-size="8.6" text-anchor="end" fill="#231f20" stroke="#231f20" stroke-width="0.25" textLength="11.60" lengthAdjust="spacingAndGlyphs">2.0</text>
<line x1="432.10" y1="180.00" x2="435.00" y2="180.00" stroke="#141414" stroke-width="1.1" />
<text x="428.40" y="183.10" font-size="8.6" text-anchor="end" fill="#231f20" stroke="#231f20" stroke-width="0.25" textLength="11.60" lengthAdjust="spacingAndGlyphs">2.5</text>
<line x1="434.40" y1="238.00" x2="505.60" y2="238.00" stroke="#141414" stroke-width="1.2" />
<line x1="454.30" y1="238.00" x2="454.30" y2="240.60" stroke="#141414" stroke-width="1.1" />
<line x1="492.20" y1="238.00" x2="492.20" y2="240.60" stroke="#141414" stroke-width="1.1" />
<line x1="447.00" y1="215.53" x2="447.00" y2="210.16" stroke="#222" stroke-width="1.0" />
<line x1="444.90" y1="210.16" x2="449.10" y2="210.16" stroke="#222" stroke-width="1.1" />
<rect x="442.60" y="215.33" width="8.80" height="22.67" fill="#3aac37" stroke="#297b27" stroke-width="0.6"/>
<line x1="447.00" y1="215.03" x2="447.00" y2="219.90" stroke="#31932f" stroke-width="0.8" />
<line x1="445.20" y1="219.90" x2="448.80" y2="219.90" stroke="#31932f" stroke-width="0.8" />
<line x1="461.30" y1="216.23" x2="461.30" y2="208.30" stroke="#222" stroke-width="1.0" />
<line x1="459.20" y1="208.30" x2="463.40" y2="208.30" stroke="#222" stroke-width="1.1" />
<rect x="456.90" y="216.03" width="8.80" height="21.97" fill="#d0112b" stroke="#950c1e" stroke-width="0.6"/>
<line x1="461.30" y1="215.73" x2="461.30" y2="223.15" stroke="#b20e24" stroke-width="0.8" />
<line x1="459.50" y1="223.15" x2="463.10" y2="223.15" stroke="#b20e24" stroke-width="0.8" />
<line x1="485.10" y1="215.53" x2="485.10" y2="212.02" stroke="#222" stroke-width="1.0" />
<line x1="483.00" y1="212.02" x2="487.20" y2="212.02" stroke="#222" stroke-width="1.1" />
<rect x="480.70" y="215.33" width="8.80" height="22.67" fill="#3aac37" stroke="#297b27" stroke-width="0.6"/>
<line x1="485.10" y1="215.03" x2="485.10" y2="218.05" stroke="#31932f" stroke-width="0.8" />
<line x1="483.30" y1="218.05" x2="486.90" y2="218.05" stroke="#31932f" stroke-width="0.8" />
<line x1="499.50" y1="192.56" x2="499.50" y2="186.96" stroke="#222" stroke-width="1.0" />
<line x1="497.40" y1="186.96" x2="501.60" y2="186.96" stroke="#222" stroke-width="1.1" />
<rect x="495.10" y="192.36" width="8.80" height="45.64" fill="#d0112b" stroke="#950c1e" stroke-width="0.6"/>
<line x1="499.50" y1="192.06" x2="499.50" y2="197.17" stroke="#b20e24" stroke-width="0.8" />
<line x1="497.70" y1="197.17" x2="501.30" y2="197.17" stroke="#b20e24" stroke-width="0.8" />
<text x="454.20" y="251.70" font-size="8.5" text-anchor="middle" fill="#231f20" stroke="#231f20" stroke-width="0.25" font-style="italic" textLength="14.70" lengthAdjust="spacingAndGlyphs">SP1</text>
<text x="492.10" y="251.70" font-size="8.5" text-anchor="middle" fill="#231f20" stroke="#231f20" stroke-width="0.25" font-style="italic" textLength="38.60" lengthAdjust="spacingAndGlyphs">ANGPTL7</text>
<text x="397.30" y="243.50" font-size="10" fill="#231f20" stroke="#231f20" stroke-width="0.25" textLength="73.60" lengthAdjust="spacingAndGlyphs" transform="rotate(-90 397.30 243.50)">Relative mRNA level</text>
<text x="410.40" y="234.70" font-size="10" fill="#231f20" stroke="#231f20" stroke-width="0.25" textLength="55.10" lengthAdjust="spacingAndGlyphs" transform="rotate(-90 410.40 234.70)">in HS-5 (THP-1)</text>
<text x="461.30" y="206.70" font-size="7.6" text-anchor="middle" fill="#231f20" stroke="#231f20" stroke-width="0.25" textLength="11.20" lengthAdjust="spacingAndGlyphs">NS</text>
<circle cx="497.32" cy="183.50" r="1.22" fill="#222"/>
<circle cx="501.28" cy="183.50" r="1.22" fill="#222"/>
<text x="460.20" y="169.30" font-size="7.4" fill="#231f20" stroke="#231f20" stroke-width="0.25" textLength="17.30" lengthAdjust="spacingAndGlyphs">HS-5</text>
<rect x="440.20" y="173.10" width="12.30" height="5.40" fill="#3aac37" />
<rect x="440.20" y="181.20" width="12.30" height="5.50" fill="#d0112b" />
<text x="456.80" y="178.10" font-size="7.0" fill="#231f20" stroke="#231f20" stroke-width="0.25" textLength="24.00" lengthAdjust="spacingAndGlyphs">MIGR1</text>
<text x="456.80" y="185.90" font-size="7.0" fill="#231f20" stroke="#231f20" stroke-width="0.25" textLength="25.20" lengthAdjust="spacingAndGlyphs">HA-ID1</text>
<line x1="73.30" y1="355.70" x2="73.30" y2="389.10" stroke="#141414" stroke-width="1.2" />
<line x1="70.30" y1="388.50" x2="73.30" y2="388.50" stroke="#141414" stroke-width="1.1" />
<text x="66.80" y="391.60" font-size="8.6" text-anchor="end" fill="#231f20" stroke="#231f20" stroke-width="0.25" textLength="4.60" lengthAdjust="spacingAndGlyphs">0</text>
<line x1="70.30" y1="372.10" x2="73.30" y2="372.10" stroke="#141414" stroke-width="1.1" />
<text x="66.80" y="375.20" font-size="8.6" text-anchor="end" fill="#231f20" stroke="#231f20" stroke-width="0.25" textLength="9.40" lengthAdjust="spacingAndGlyphs">75</text>
<line x1="70.30" y1="355.70" x2="73.30" y2="355.70" stroke="#141414" stroke-width="1.1" />
<text x="66.80" y="358.80" font-size="8.6" text-anchor="end" fill="#231f20" stroke="#231f20" stroke-width="0.25" textLength="14.10" lengthAdjust="spacingAndGlyphs">150</text>
<line x1="73.30" y1="329.80" x2="73.30" y2="344.70" stroke="#141414" stroke-width="1.2" />
<line x1="70.30" y1="344.20" x2="73.30" y2="344.20" stroke="#141414" stroke-width="1.1" />
<text x="66.80" y="347.30" font-size="8.6" text-anchor="end" fill="#231f20" stroke="#231f20" stroke-width="0.25" textLength="14.10" lengthAdjust="spacingAndGlyphs">250</text>
<line x1="70.30" y1="330.30" x2="73.30" y2="330.30" stroke="#141414" stroke-width="1.1" />
<text x="66.80" y="333.40" font-size="8.6" text-anchor="end" fill="#231f20" stroke="#231f20" stroke-width="0.25" textLength="14.10" lengthAdjust="spacingAndGlyphs">550</text>
<line x1="72.70" y1="388.50" x2="170.40" y2="388.50" stroke="#141414" stroke-width="1.2" />
<line x1="83.55" y1="388.50" x2="83.55" y2="391.10" stroke="#141414" stroke-width="1.1" />
<line x1="83.55" y1="363.85" x2="83.55" y2="360.95" stroke="#222" stroke-width="1.0" />
<line x1="81.45" y1="360.95" x2="85.65" y2="360.95" stroke="#222" stroke-width="1.1" />
<rect x="77.60" y="363.65" width="11.90" height="24.85" fill="#afc08b" stroke="#7e8a64" stroke-width="0.6"/>
<line x1="83.55" y1="363.35" x2="83.55" y2="365.76" stroke="#96a577" stroke-width="0.8" />
<line x1="81.75" y1="365.76" x2="85.35" y2="365.76" stroke="#96a577" stroke-width="0.8" />
<line x1="102.35" y1="388.50" x2="102.35" y2="391.10" stroke="#141414" stroke-width="1.1" />
<line x1="102.35" y1="382.66" x2="102.35" y2="380.85" stroke="#222" stroke-width="1.0" />
<line x1="100.25" y1="380.85" x2="104.45" y2="380.85" stroke="#222" stroke-width="1.1" />
<rect x="96.40" y="382.46" width="11.90" height="6.04" fill="#d0112b" stroke="#950c1e" stroke-width="0.6"/>
<line x1="102.35" y1="382.16" x2="102.35" y2="383.47" stroke="#b20e24" stroke-width="0.8" />
<line x1="100.55" y1="383.47" x2="104.15" y2="383.47" stroke="#b20e24" stroke-width="0.8" />
<line x1="121.45" y1="388.50" x2="121.45" y2="391.10" stroke="#141414" stroke-width="1.1" />
<line x1="121.45" y1="380.80" x2="121.45" y2="379.32" stroke="#222" stroke-width="1.0" />
<line x1="119.35" y1="379.32" x2="123.55" y2="379.32" stroke="#222" stroke-width="1.1" />
<rect x="115.50" y="380.60" width="11.90" height="7.90" fill="#1b4f8c" stroke="#133864" stroke-width="0.6"/>
<line x1="140.65" y1="388.50" x2="140.65" y2="391.10" stroke="#141414" stroke-width="1.1" />
<line x1="140.65" y1="372.49" x2="140.65" y2="369.26" stroke="#222" stroke-width="1.0" />
<line x1="138.55" y1="369.26" x2="142.75" y2="369.26" stroke="#222" stroke-width="1.1" />
<rect x="134.70" y="372.29" width="11.90" height="16.21" fill="#3aac37" stroke="#297b27" stroke-width="0.6"/>
<line x1="140.65" y1="371.99" x2="140.65" y2="374.72" stroke="#31932f" stroke-width="0.8" />
<line x1="138.85" y1="374.72" x2="142.45" y2="374.72" stroke="#31932f" stroke-width="0.8" />
<line x1="159.95" y1="388.50" x2="159.95" y2="391.10" stroke="#141414" stroke-width="1.1" />
<rect x="153.70" y="356.00" width="12.50" height="32.50" fill="#f7941d" />
<line x1="159.95" y1="341.32" x2="159.95" y2="337.02" stroke="#222" stroke-width="1.0" />
<line x1="157.85" y1="337.02" x2="162.05" y2="337.02" stroke="#222" stroke-width="1.1" />
<rect x="153.70" y="340.82" width="12.50" height="3.58" fill="#f7941d" />
<circle cx="96.38" cy="376.70" r="1.22" fill="#222"/>
<circle cx="100.33" cy="376.70" r="1.22" fill="#222"/>
<circle cx="104.27" cy="376.70" r="1.22" fill="#222"/>
<circle cx="108.22" cy="376.70" r="1.22" fill="#222"/>
<circle cx="115.67" cy="375.80" r="1.22" fill="#222"/>
<circle cx="119.62" cy="375.80" r="1.22" fill="#222"/>
<circle cx="123.57" cy="375.80" r="1.22" fill="#222"/>
<circle cx="127.52" cy="375.80" r="1.22" fill="#222"/>
<circle cx="158.03" cy="332.50" r="1.22" fill="#222"/>
<circle cx="161.97" cy="332.50" r="1.22" fill="#222"/>
<text x="76.20" y="403.20" font-size="8.2" fill="#231f20" stroke="#231f20" stroke-width="0.25" textLength="13.80" lengthAdjust="spacingAndGlyphs">Ctrl</text>
<text x="96.20" y="403.20" font-size="8.2" fill="#231f20" stroke="#231f20" stroke-width="0.25" textLength="11.80" lengthAdjust="spacingAndGlyphs">sh1</text>
<text x="115.00" y="403.20" font-size="8.2" fill="#231f20" stroke="#231f20" stroke-width="0.25" textLength="13.00" lengthAdjust="spacingAndGlyphs">sh2</text>
<text x="132.00" y="403.20" font-size="8.2" fill="#231f20" stroke="#231f20" stroke-width="0.25" textLength="18.50" lengthAdjust="spacingAndGlyphs">pLVX</text>
<text x="156.20" y="403.20" font-size="8.2" fill="#231f20" stroke="#231f20" stroke-width="0.25" textLength="38.80" lengthAdjust="spacingAndGlyphs">FLAG-SP1</text>
<line x1="95.80" y1="405.80" x2="128.00" y2="405.80" stroke="#444" stroke-width="1.2" />
<text x="105.00" y="415.30" font-size="8.2" fill="#231f20" stroke="#231f20" stroke-width="0.25" font-style="italic" textLength="13.80" lengthAdjust="spacingAndGlyphs">SP1</text>
<text x="34.00" y="393.50" font-size="10" fill="#231f20" stroke="#231f20" stroke-width="0.25" textLength="70.10" lengthAdjust="spacingAndGlyphs" transform="rotate(-90 34.00 393.50)">Secreted ANGPTL7</text>
<text x="45.70" y="396.90" font-size="10" fill="#231f20" stroke="#231f20" stroke-width="0.25" textLength="74.10" lengthAdjust="spacingAndGlyphs" transform="rotate(-90 45.70 396.90)">in HS-5 CM (pg/mL)</text>
<rect x="236.50" y="352.90" width="77.30" height="4.60" fill="#d9d9dc" />
<ellipse cx="256.30" cy="355.9" rx="3.0" ry="4.6" fill="#e8702a"/>
<path d="M248.00 350.4 L248.00 346.9 L265.40 346.9 L265.40 350.4" fill="none" stroke="#444" stroke-width="1.0"/>
<text x="256.30" y="343.30" font-size="7.5" text-anchor="middle" fill="#333" stroke="#333" stroke-width="0.15">I</text>
<ellipse cx="304.20" cy="355.9" rx="3.0" ry="4.6" fill="#e8702a"/>
<path d="M295.20 350.4 L295.20 346.9 L312.90 346.9 L312.90 350.4" fill="none" stroke="#444" stroke-width="1.0"/>
<text x="304.20" y="343.30" font-size="7.5" text-anchor="middle" fill="#333" stroke="#333" stroke-width="0.15">II</text>
<line x1="253.00" y1="359.60" x2="235.40" y2="367.90" stroke="#333" stroke-width="0.9" />
<line x1="259.60" y1="359.60" x2="277.00" y2="367.90" stroke="#333" stroke-width="0.9" />
<line x1="301.00" y1="359.80" x2="288.60" y2="367.90" stroke="#333" stroke-width="0.9" />
<line x1="307.60" y1="359.80" x2="329.60" y2="369.20" stroke="#333" stroke-width="0.9" />
<text x="235.40" y="377.20" font-size="7.2" fill="#333" stroke="#333" stroke-width="0.15" textLength="42.60" lengthAdjust="spacingAndGlyphs">TCAGGCGGT</text>
<text x="288.50" y="377.20" font-size="7.2" fill="#333" stroke="#333" stroke-width="0.15" textLength="43.80" lengthAdjust="spacingAndGlyphs">ACTCGCCCC</text>
<rect x="315.2" y="350.9" width="34.6" height="8.5" fill="#fff" stroke="#6a8ac0" stroke-width="0.8"/>
<text x="317.00" y="358.20" font-size="7.6" fill="#3a4560" stroke="#3a4560" stroke-width="0.08" font-style="italic" textLength="31.00" lengthAdjust="spacingAndGlyphs">ANGPTL7</text>
<path d="M314.9 350.9 L314.9 344.8 L326.5 344.8" fill="none" stroke="#3d4b6b" stroke-width="1.0"/>
<path d="M325.8 342.9 L329.6 344.8 L325.8 346.7Z" fill="#3d4b6b"/>
<text x="442.70" y="300.00" font-size="7.6" fill="#231f20" stroke="#231f20" stroke-width="0.25" textLength="18.50" lengthAdjust="spacingAndGlyphs">HS-5</text>
<line x1="410.20" y1="307.30" x2="425.80" y2="307.30" stroke="#33427a" stroke-width="1.2" />
<text x="429.60" y="311.10" font-size="7.8" fill="#231f20" stroke="#231f20" stroke-width="0.22" font-style="italic" textLength="12.10" lengthAdjust="spacingAndGlyphs">ID1</text>
<text x="441.90" y="308.20" font-size="4.6" fill="#231f20" stroke="#231f20" stroke-width="0.12" textLength="7.80" lengthAdjust="spacingAndGlyphs">+/+</text>
<text x="454.30" y="311.10" font-size="7.6" fill="#231f20" stroke="#231f20" stroke-width="0.25" textLength="36.30" lengthAdjust="spacingAndGlyphs">FLAG-SP1</text>
<line x1="410.20" y1="316.80" x2="425.80" y2="316.80" stroke="#2a5a8a" stroke-width="1.2" stroke-dasharray="2.8 1.5"/>
<text x="429.60" y="320.60" font-size="7.8" fill="#231f20" stroke="#231f20" stroke-width="0.22" font-style="italic" textLength="12.10" lengthAdjust="spacingAndGlyphs">ID1</text>
<text x="441.90" y="317.70" font-size="4.6" fill="#231f20" stroke="#231f20" stroke-width="0.12" textLength="7.80" lengthAdjust="spacingAndGlyphs">+/+</text>
<text x="454.30" y="320.60" font-size="7.6" fill="#231f20" stroke="#231f20" stroke-width="0.25" textLength="17.30" lengthAdjust="spacingAndGlyphs">pLVX</text>
<line x1="410.20" y1="326.00" x2="425.80" y2="326.00" stroke="#c02a4c" stroke-width="1.2" />
<text x="429.60" y="329.80" font-size="7.8" fill="#231f20" stroke="#231f20" stroke-width="0.22" font-style="italic" textLength="12.10" lengthAdjust="spacingAndGlyphs">ID1</text>
<text x="441.90" y="326.90" font-size="4.6" fill="#231f20" stroke="#231f20" stroke-width="0.12" textLength="7.80" lengthAdjust="spacingAndGlyphs">–/–</text>
<text x="452.60" y="329.80" font-size="7.6" fill="#231f20" stroke="#231f20" stroke-width="0.25" textLength="35.50" lengthAdjust="spacingAndGlyphs">FLAG-SP1</text>
<line x1="410.20" y1="335.30" x2="425.80" y2="335.30" stroke="#d53a58" stroke-width="1.2" stroke-dasharray="1.9 1.2"/>
<text x="429.60" y="339.10" font-size="7.8" fill="#231f20" stroke="#231f20" stroke-width="0.22" font-style="italic" textLength="12.10" lengthAdjust="spacingAndGlyphs">ID1</text>
<text x="441.90" y="336.20" font-size="4.6" fill="#231f20" stroke="#231f20" stroke-width="0.12" textLength="7.80" lengthAdjust="spacingAndGlyphs">–/–</text>
<text x="452.60" y="339.10" font-size="7.6" fill="#231f20" stroke="#231f20" stroke-width="0.25" textLength="17.30" lengthAdjust="spacingAndGlyphs">pLVX</text>
<line x1="426.20" y1="341.35" x2="426.20" y2="398.70" stroke="#141414" stroke-width="1.2" />
<line x1="423.30" y1="398.10" x2="426.20" y2="398.10" stroke="#141414" stroke-width="1.1" />
<text x="420.00" y="401.20" font-size="8.6" text-anchor="end" fill="#231f20" stroke="#231f20" stroke-width="0.25" textLength="4.60" lengthAdjust="spacingAndGlyphs">0</text>
<line x1="423.30" y1="387.15" x2="426.20" y2="387.15" stroke="#141414" stroke-width="1.1" />
<text x="420.00" y="390.25" font-size="8.6" text-anchor="end" fill="#231f20" stroke="#231f20" stroke-width="0.25" textLength="4.60" lengthAdjust="spacingAndGlyphs">1</text>
<line x1="423.30" y1="376.20" x2="426.20" y2="376.20" stroke="#141414" stroke-width="1.1" />
<text x="420.00" y="379.30" font-size="8.6" text-anchor="end" fill="#231f20" stroke="#231f20" stroke-width="0.25" textLength="4.60" lengthAdjust="spacingAndGlyphs">2</text>
<line x1="423.30" y1="365.25" x2="426.20" y2="365.25" stroke="#141414" stroke-width="1.1" />
<text x="420.00" y="368.35" font-size="8.6" text-anchor="end" fill="#231f20" stroke="#231f20" stroke-width="0.25" textLength="4.60" lengthAdjust="spacingAndGlyphs">3</text>
<line x1="423.30" y1="354.30" x2="426.20" y2="354.30" stroke="#141414" stroke-width="1.1" />
<text x="420.00" y="357.40" font-size="8.6" text-anchor="end" fill="#231f20" stroke="#231f20" stroke-width="0.25" textLength="4.60" lengthAdjust="spacingAndGlyphs">4</text>
<line x1="423.30" y1="343.35" x2="426.20" y2="343.35" stroke="#141414" stroke-width="1.1" />
<text x="420.00" y="346.45" font-size="8.6" text-anchor="end" fill="#231f20" stroke="#231f20" stroke-width="0.25" textLength="4.60" lengthAdjust="spacingAndGlyphs">5</text>
<line x1="425.60" y1="398.10" x2="485.00" y2="398.10" stroke="#141414" stroke-width="1.2" />
<line x1="433.50" y1="398.10" x2="433.50" y2="400.70" stroke="#141414" stroke-width="1.1" />
<text x="433.50" y="412.60" font-size="8.6" text-anchor="middle" fill="#231f20" stroke="#231f20" stroke-width="0.25" textLength="4.60" lengthAdjust="spacingAndGlyphs">0</text>
<line x1="448.40" y1="398.10" x2="448.40" y2="400.70" stroke="#141414" stroke-width="1.1" />
<text x="448.40" y="412.60" font-size="8.6" text-anchor="middle" fill="#231f20" stroke="#231f20" stroke-width="0.25" textLength="4.60" lengthAdjust="spacingAndGlyphs">1</text>
<line x1="463.20" y1="398.10" x2="463.20" y2="400.70" stroke="#141414" stroke-width="1.1" />
<text x="463.20" y="412.60" font-size="8.6" text-anchor="middle" fill="#231f20" stroke="#231f20" stroke-width="0.25" textLength="4.60" lengthAdjust="spacingAndGlyphs">2</text>
<line x1="478.10" y1="398.10" x2="478.10" y2="400.70" stroke="#141414" stroke-width="1.1" />
<text x="478.10" y="412.60" font-size="8.6" text-anchor="middle" fill="#231f20" stroke="#231f20" stroke-width="0.25" textLength="4.60" lengthAdjust="spacingAndGlyphs">3</text>
<text x="455.80" y="426.40" font-size="9.7" text-anchor="middle" fill="#231f20" stroke="#231f20" stroke-width="0.25" textLength="13.40" lengthAdjust="spacingAndGlyphs">Day</text>
<text x="396.60" y="401.20" font-size="10" fill="#231f20" stroke="#231f20" stroke-width="0.25" textLength="64.50" lengthAdjust="spacingAndGlyphs" transform="rotate(-90 396.60 401.20)">Relative Kasumi-1</text>
<text x="409.30" y="379.70" font-size="10" fill="#231f20" stroke="#231f20" stroke-width="0.25" textLength="25.80" lengthAdjust="spacingAndGlyphs" transform="rotate(-90 409.30 379.70)">viability</text>
<polyline points="433.50,387.15 448.40,379.27 463.20,364.70 478.10,356.49" fill="none" stroke="#2a5a8a" stroke-width="1.2" stroke-dasharray="3.2 2.0"/>
<rect x="432.20" y="385.85" width="2.6" height="2.6" fill="#2a5a8a"/>
<rect x="447.10" y="377.97" width="2.6" height="2.6" fill="#2a5a8a"/>
<line x1="448.40" y1="378.17" x2="448.40" y2="380.36" stroke="#2a5a8a" stroke-width="0.9" />
<line x1="446.90" y1="378.17" x2="449.90" y2="378.17" stroke="#2a5a8a" stroke-width="0.9" />
<line x1="446.90" y1="380.36" x2="449.90" y2="380.36" stroke="#2a5a8a" stroke-width="0.9" />
<rect x="461.90" y="363.40" width="2.6" height="2.6" fill="#2a5a8a"/>
<line x1="463.20" y1="361.97" x2="463.20" y2="367.44" stroke="#2a5a8a" stroke-width="0.9" />
<line x1="461.70" y1="361.97" x2="464.70" y2="361.97" stroke="#2a5a8a" stroke-width="0.9" />
<line x1="461.70" y1="367.44" x2="464.70" y2="367.44" stroke="#2a5a8a" stroke-width="0.9" />
<rect x="476.80" y="355.19" width="2.6" height="2.6" fill="#2a5a8a"/>
<line x1="478.10" y1="354.85" x2="478.10" y2="358.13" stroke="#2a5a8a" stroke-width="0.9" />
<line x1="476.60" y1="354.85" x2="479.60" y2="354.85" stroke="#2a5a8a" stroke-width="0.9" />
<line x1="476.60" y1="358.13" x2="479.60" y2="358.13" stroke="#2a5a8a" stroke-width="0.9" />
<polyline points="433.50,387.15 448.40,383.32 463.20,380.36 478.10,372.92" fill="none" stroke="#d53a58" stroke-width="1.2" stroke-dasharray="3.2 2.0"/>
<rect x="432.20" y="385.85" width="2.6" height="2.6" fill="#d53a58"/>
<rect x="447.10" y="382.02" width="2.6" height="2.6" fill="#d53a58"/>
<line x1="448.40" y1="382.77" x2="448.40" y2="383.87" stroke="#d53a58" stroke-width="0.9" />
<line x1="446.90" y1="382.77" x2="449.90" y2="382.77" stroke="#d53a58" stroke-width="0.9" />
<line x1="446.90" y1="383.87" x2="449.90" y2="383.87" stroke="#d53a58" stroke-width="0.9" />
<rect x="461.90" y="379.06" width="2.6" height="2.6" fill="#d53a58"/>
<line x1="463.20" y1="379.70" x2="463.20" y2="381.02" stroke="#d53a58" stroke-width="0.9" />
<line x1="461.70" y1="379.70" x2="464.70" y2="379.70" stroke="#d53a58" stroke-width="0.9" />
<line x1="461.70" y1="381.02" x2="464.70" y2="381.02" stroke="#d53a58" stroke-width="0.9" />
<rect x="476.80" y="371.62" width="2.6" height="2.6" fill="#d53a58"/>
<line x1="478.10" y1="371.82" x2="478.10" y2="374.01" stroke="#d53a58" stroke-width="0.9" />
<line x1="476.60" y1="371.82" x2="479.60" y2="371.82" stroke="#d53a58" stroke-width="0.9" />
<line x1="476.60" y1="374.01" x2="479.60" y2="374.01" stroke="#d53a58" stroke-width="0.9" />
<polyline points="433.50,387.15 448.40,376.20 463.20,355.94 478.10,348.28" fill="none" stroke="#33427a" stroke-width="1.6"/>
<rect x="432.20" y="385.85" width="2.6" height="2.6" fill="#33427a"/>
<rect x="447.10" y="374.90" width="2.6" height="2.6" fill="#33427a"/>
<line x1="448.40" y1="374.89" x2="448.40" y2="377.51" stroke="#33427a" stroke-width="0.9" />
<line x1="446.90" y1="374.89" x2="449.90" y2="374.89" stroke="#33427a" stroke-width="0.9" />
<line x1="446.90" y1="377.51" x2="449.90" y2="377.51" stroke="#33427a" stroke-width="0.9" />
<rect x="461.90" y="354.64" width="2.6" height="2.6" fill="#33427a"/>
<line x1="463.20" y1="352.66" x2="463.20" y2="359.23" stroke="#33427a" stroke-width="0.9" />
<line x1="461.70" y1="352.66" x2="464.70" y2="352.66" stroke="#33427a" stroke-width="0.9" />
<line x1="461.70" y1="359.23" x2="464.70" y2="359.23" stroke="#33427a" stroke-width="0.9" />
<rect x="476.80" y="346.98" width="2.6" height="2.6" fill="#33427a"/>
<line x1="478.10" y1="345.54" x2="478.10" y2="351.02" stroke="#33427a" stroke-width="0.9" />
<line x1="476.60" y1="345.54" x2="479.60" y2="345.54" stroke="#33427a" stroke-width="0.9" />
<line x1="476.60" y1="351.02" x2="479.60" y2="351.02" stroke="#33427a" stroke-width="0.9" />
<polyline points="433.50,387.15 448.40,377.30 463.20,356.49 478.10,349.37" fill="none" stroke="#c02a4c" stroke-width="1.6" stroke-opacity="0.5"/>
<rect x="432.20" y="385.85" width="2.6" height="2.6" fill="#c02a4c" fill-opacity="0.5"/>
<rect x="447.10" y="376.00" width="2.6" height="2.6" fill="#c02a4c" fill-opacity="0.5"/>
<line x1="448.40" y1="376.20" x2="448.40" y2="378.39" stroke="#c02a4c" stroke-width="0.9" />
<line x1="446.90" y1="376.20" x2="449.90" y2="376.20" stroke="#c02a4c" stroke-width="0.9" />
<line x1="446.90" y1="378.39" x2="449.90" y2="378.39" stroke="#c02a4c" stroke-width="0.9" />
<rect x="461.90" y="355.19" width="2.6" height="2.6" fill="#c02a4c" fill-opacity="0.5"/>
<line x1="463.20" y1="354.30" x2="463.20" y2="358.68" stroke="#c02a4c" stroke-width="0.9" />
<line x1="461.70" y1="354.30" x2="464.70" y2="354.30" stroke="#c02a4c" stroke-width="0.9" />
<line x1="461.70" y1="358.68" x2="464.70" y2="358.68" stroke="#c02a4c" stroke-width="0.9" />
<rect x="476.80" y="348.07" width="2.6" height="2.6" fill="#c02a4c" fill-opacity="0.5"/>
<line x1="478.10" y1="347.18" x2="478.10" y2="351.56" stroke="#c02a4c" stroke-width="0.9" />
<line x1="476.60" y1="347.18" x2="479.60" y2="347.18" stroke="#c02a4c" stroke-width="0.9" />
<line x1="476.60" y1="351.56" x2="479.60" y2="351.56" stroke="#c02a4c" stroke-width="0.9" />
<circle cx="484.68" cy="347.70" r="1.3" fill="#34466e"/>
<circle cx="488.62" cy="347.70" r="1.3" fill="#34466e"/>
<circle cx="492.58" cy="347.70" r="1.3" fill="#34466e"/>
<circle cx="496.53" cy="347.70" r="1.3" fill="#34466e"/>
<circle cx="484.68" cy="353.70" r="1.3" fill="#d53a58"/>
<circle cx="488.62" cy="353.70" r="1.3" fill="#d53a58"/>
<circle cx="492.58" cy="353.70" r="1.3" fill="#d53a58"/>
<circle cx="496.53" cy="353.70" r="1.3" fill="#d53a58"/>
<circle cx="484.68" cy="360.30" r="1.3" fill="#2a5a8a"/>
<circle cx="488.62" cy="360.30" r="1.3" fill="#2a5a8a"/>
<circle cx="492.58" cy="360.30" r="1.3" fill="#2a5a8a"/>
<circle cx="496.53" cy="360.30" r="1.3" fill="#2a5a8a"/>
<text x="439.90" y="463.10" font-size="7.6" fill="#231f20" stroke="#231f20" stroke-width="0.25" textLength="18.50" lengthAdjust="spacingAndGlyphs">HS-5</text>
<line x1="407.40" y1="470.40" x2="423.00" y2="470.40" stroke="#33427a" stroke-width="1.2" />
<text x="426.80" y="474.20" font-size="7.8" fill="#231f20" stroke="#231f20" stroke-width="0.22" font-style="italic" textLength="12.10" lengthAdjust="spacingAndGlyphs">ID1</text>
<text x="439.10" y="471.30" font-size="4.6" fill="#231f20" stroke="#231f20" stroke-width="0.12" textLength="7.80" lengthAdjust="spacingAndGlyphs">+/+</text>
<text x="451.50" y="474.20" font-size="7.6" fill="#231f20" stroke="#231f20" stroke-width="0.25" textLength="36.30" lengthAdjust="spacingAndGlyphs">FLAG-SP1</text>
<line x1="407.40" y1="479.90" x2="423.00" y2="479.90" stroke="#2a5a8a" stroke-width="1.2" stroke-dasharray="2.8 1.5"/>
<text x="426.80" y="483.70" font-size="7.8" fill="#231f20" stroke="#231f20" stroke-width="0.22" font-style="italic" textLength="12.10" lengthAdjust="spacingAndGlyphs">ID1</text>
<text x="439.10" y="480.80" font-size="4.6" fill="#231f20" stroke="#231f20" stroke-width="0.12" textLength="7.80" lengthAdjust="spacingAndGlyphs">+/+</text>
<text x="451.50" y="483.70" font-size="7.6" fill="#231f20" stroke="#231f20" stroke-width="0.25" textLength="17.30" lengthAdjust="spacingAndGlyphs">pLVX</text>
<line x1="407.40" y1="489.10" x2="423.00" y2="489.10" stroke="#c02a4c" stroke-width="1.2" />
<text x="426.80" y="492.90" font-size="7.8" fill="#231f20" stroke="#231f20" stroke-width="0.22" font-style="italic" textLength="12.10" lengthAdjust="spacingAndGlyphs">ID1</text>
<text x="439.10" y="490.00" font-size="4.6" fill="#231f20" stroke="#231f20" stroke-width="0.12" textLength="7.80" lengthAdjust="spacingAndGlyphs">–/–</text>
<text x="449.80" y="492.90" font-size="7.6" fill="#231f20" stroke="#231f20" stroke-width="0.25" textLength="35.50" lengthAdjust="spacingAndGlyphs">FLAG-SP1</text>
<line x1="407.40" y1="498.40" x2="423.00" y2="498.40" stroke="#d53a58" stroke-width="1.2" stroke-dasharray="1.9 1.2"/>
<text x="426.80" y="502.20" font-size="7.8" fill="#231f20" stroke="#231f20" stroke-width="0.22" font-style="italic" textLength="12.10" lengthAdjust="spacingAndGlyphs">ID1</text>
<text x="439.10" y="499.30" font-size="4.6" fill="#231f20" stroke="#231f20" stroke-width="0.12" textLength="7.80" lengthAdjust="spacingAndGlyphs">–/–</text>
<text x="449.80" y="502.20" font-size="7.6" fill="#231f20" stroke="#231f20" stroke-width="0.25" textLength="17.30" lengthAdjust="spacingAndGlyphs">pLVX</text>
<line x1="423.80" y1="506.90" x2="423.80" y2="564.50" stroke="#141414" stroke-width="1.2" />
<line x1="420.90" y1="563.90" x2="423.80" y2="563.90" stroke="#141414" stroke-width="1.1" />
<text x="417.60" y="567.00" font-size="8.6" text-anchor="end" fill="#231f20" stroke="#231f20" stroke-width="0.25" textLength="4.60" lengthAdjust="spacingAndGlyphs">0</text>
<line x1="420.90" y1="550.15" x2="423.80" y2="550.15" stroke="#141414" stroke-width="1.1" />
<text x="417.60" y="553.25" font-size="8.6" text-anchor="end" fill="#231f20" stroke="#231f20" stroke-width="0.25" textLength="4.60" lengthAdjust="spacingAndGlyphs">1</text>
<line x1="420.90" y1="536.40" x2="423.80" y2="536.40" stroke="#141414" stroke-width="1.1" />
<text x="417.60" y="539.50" font-size="8.6" text-anchor="end" fill="#231f20" stroke="#231f20" stroke-width="0.25" textLength="4.60" lengthAdjust="spacingAndGlyphs">2</text>
<line x1="420.90" y1="522.65" x2="423.80" y2="522.65" stroke="#141414" stroke-width="1.1" />
<text x="417.60" y="525.75" font-size="8.6" text-anchor="end" fill="#231f20" stroke="#231f20" stroke-width="0.25" textLength="4.60" lengthAdjust="spacingAndGlyphs">3</text>
<line x1="420.90" y1="508.90" x2="423.80" y2="508.90" stroke="#141414" stroke-width="1.1" />
<text x="417.60" y="512.00" font-size="8.6" text-anchor="end" fill="#231f20" stroke="#231f20" stroke-width="0.25" textLength="4.60" lengthAdjust="spacingAndGlyphs">4</text>
<line x1="423.20" y1="563.90" x2="481.50" y2="563.90" stroke="#141414" stroke-width="1.2" />
<line x1="431.20" y1="563.90" x2="431.20" y2="566.50" stroke="#141414" stroke-width="1.1" />
<text x="431.20" y="578.40" font-size="8.6" text-anchor="middle" fill="#231f20" stroke="#231f20" stroke-width="0.25" textLength="4.60" lengthAdjust="spacingAndGlyphs">0</text>
<line x1="445.80" y1="563.90" x2="445.80" y2="566.50" stroke="#141414" stroke-width="1.1" />
<text x="445.80" y="578.40" font-size="8.6" text-anchor="middle" fill="#231f20" stroke="#231f20" stroke-width="0.25" textLength="4.60" lengthAdjust="spacingAndGlyphs">1</text>
<line x1="460.30" y1="563.90" x2="460.30" y2="566.50" stroke="#141414" stroke-width="1.1" />
<text x="460.30" y="578.40" font-size="8.6" text-anchor="middle" fill="#231f20" stroke="#231f20" stroke-width="0.25" textLength="4.60" lengthAdjust="spacingAndGlyphs">2</text>
<line x1="474.70" y1="563.90" x2="474.70" y2="566.50" stroke="#141414" stroke-width="1.1" />
<text x="474.70" y="578.40" font-size="8.6" text-anchor="middle" fill="#231f20" stroke="#231f20" stroke-width="0.25" textLength="4.60" lengthAdjust="spacingAndGlyphs">3</text>
<text x="453.05" y="592.20" font-size="9.7" text-anchor="middle" fill="#231f20" stroke="#231f20" stroke-width="0.25" textLength="13.40" lengthAdjust="spacingAndGlyphs">Day</text>
<text x="394.60" y="560.80" font-size="10" fill="#231f20" stroke="#231f20" stroke-width="0.25" textLength="51.20" lengthAdjust="spacingAndGlyphs" transform="rotate(-90 394.60 560.80)">Relative THP-1</text>
<text x="406.30" y="548.40" font-size="10" fill="#231f20" stroke="#231f20" stroke-width="0.25" textLength="28.70" lengthAdjust="spacingAndGlyphs" transform="rotate(-90 406.30 548.40)">viability</text>
<polyline points="431.20,550.15 445.80,543.27 460.30,531.59 474.70,519.21" fill="none" stroke="#2a5a8a" stroke-width="1.2" stroke-dasharray="3.2 2.0"/>
<rect x="429.90" y="548.85" width="2.6" height="2.6" fill="#2a5a8a"/>
<rect x="444.50" y="541.98" width="2.6" height="2.6" fill="#2a5a8a"/>
<line x1="445.80" y1="541.90" x2="445.80" y2="544.65" stroke="#2a5a8a" stroke-width="0.9" />
<line x1="444.30" y1="541.90" x2="447.30" y2="541.90" stroke="#2a5a8a" stroke-width="0.9" />
<line x1="444.30" y1="544.65" x2="447.30" y2="544.65" stroke="#2a5a8a" stroke-width="0.9" />
<rect x="459.00" y="530.29" width="2.6" height="2.6" fill="#2a5a8a"/>
<line x1="460.30" y1="529.52" x2="460.30" y2="533.65" stroke="#2a5a8a" stroke-width="0.9" />
<line x1="458.80" y1="529.52" x2="461.80" y2="529.52" stroke="#2a5a8a" stroke-width="0.9" />
<line x1="458.80" y1="533.65" x2="461.80" y2="533.65" stroke="#2a5a8a" stroke-width="0.9" />
<rect x="473.40" y="517.91" width="2.6" height="2.6" fill="#2a5a8a"/>
<line x1="474.70" y1="517.84" x2="474.70" y2="520.59" stroke="#2a5a8a" stroke-width="0.9" />
<line x1="473.20" y1="517.84" x2="476.20" y2="517.84" stroke="#2a5a8a" stroke-width="0.9" />
<line x1="473.20" y1="520.59" x2="476.20" y2="520.59" stroke="#2a5a8a" stroke-width="0.9" />
<polyline points="431.20,550.15 445.80,546.02 460.30,543.96 474.70,539.84" fill="none" stroke="#d53a58" stroke-width="1.2" stroke-dasharray="3.2 2.0"/>
<rect x="429.90" y="548.85" width="2.6" height="2.6" fill="#d53a58"/>
<rect x="444.50" y="544.73" width="2.6" height="2.6" fill="#d53a58"/>
<line x1="445.80" y1="545.34" x2="445.80" y2="546.71" stroke="#d53a58" stroke-width="0.9" />
<line x1="444.30" y1="545.34" x2="447.30" y2="545.34" stroke="#d53a58" stroke-width="0.9" />
<line x1="444.30" y1="546.71" x2="447.30" y2="546.71" stroke="#d53a58" stroke-width="0.9" />
<rect x="459.00" y="542.66" width="2.6" height="2.6" fill="#d53a58"/>
<line x1="460.30" y1="542.59" x2="460.30" y2="545.34" stroke="#d53a58" stroke-width="0.9" />
<line x1="458.80" y1="542.59" x2="461.80" y2="542.59" stroke="#d53a58" stroke-width="0.9" />
<line x1="458.80" y1="545.34" x2="461.80" y2="545.34" stroke="#d53a58" stroke-width="0.9" />
<rect x="473.40" y="538.54" width="2.6" height="2.6" fill="#d53a58"/>
<line x1="474.70" y1="538.74" x2="474.70" y2="540.94" stroke="#d53a58" stroke-width="0.9" />
<line x1="473.20" y1="538.74" x2="476.20" y2="538.74" stroke="#d53a58" stroke-width="0.9" />
<line x1="473.20" y1="540.94" x2="476.20" y2="540.94" stroke="#d53a58" stroke-width="0.9" />
<polyline points="431.20,550.15 445.80,541.90 460.30,527.88 474.70,510.27" fill="none" stroke="#33427a" stroke-width="1.6"/>
<rect x="429.90" y="548.85" width="2.6" height="2.6" fill="#33427a"/>
<rect x="444.50" y="540.60" width="2.6" height="2.6" fill="#33427a"/>
<line x1="445.80" y1="540.52" x2="445.80" y2="543.27" stroke="#33427a" stroke-width="0.9" />
<line x1="444.30" y1="540.52" x2="447.30" y2="540.52" stroke="#33427a" stroke-width="0.9" />
<line x1="444.30" y1="543.27" x2="447.30" y2="543.27" stroke="#33427a" stroke-width="0.9" />
<rect x="459.00" y="526.58" width="2.6" height="2.6" fill="#33427a"/>
<line x1="460.30" y1="525.12" x2="460.30" y2="530.62" stroke="#33427a" stroke-width="0.9" />
<line x1="458.80" y1="525.12" x2="461.80" y2="525.12" stroke="#33427a" stroke-width="0.9" />
<line x1="458.80" y1="530.62" x2="461.80" y2="530.62" stroke="#33427a" stroke-width="0.9" />
<rect x="473.40" y="508.97" width="2.6" height="2.6" fill="#33427a"/>
<line x1="474.70" y1="508.62" x2="474.70" y2="511.92" stroke="#33427a" stroke-width="0.9" />
<line x1="473.20" y1="508.62" x2="476.20" y2="508.62" stroke="#33427a" stroke-width="0.9" />
<line x1="473.20" y1="511.92" x2="476.20" y2="511.92" stroke="#33427a" stroke-width="0.9" />
<polyline points="431.20,550.15 445.80,542.59 460.30,528.84 474.70,511.92" fill="none" stroke="#c02a4c" stroke-width="1.6" stroke-opacity="0.5"/>
<rect x="429.90" y="548.85" width="2.6" height="2.6" fill="#c02a4c" fill-opacity="0.5"/>
<rect x="444.50" y="541.29" width="2.6" height="2.6" fill="#c02a4c" fill-opacity="0.5"/>
<line x1="445.80" y1="541.21" x2="445.80" y2="543.96" stroke="#c02a4c" stroke-width="0.9" />
<line x1="444.30" y1="541.21" x2="447.30" y2="541.21" stroke="#c02a4c" stroke-width="0.9" />
<line x1="444.30" y1="543.96" x2="447.30" y2="543.96" stroke="#c02a4c" stroke-width="0.9" />
<rect x="459.00" y="527.54" width="2.6" height="2.6" fill="#c02a4c" fill-opacity="0.5"/>
<line x1="460.30" y1="526.77" x2="460.30" y2="530.90" stroke="#c02a4c" stroke-width="0.9" />
<line x1="458.80" y1="526.77" x2="461.80" y2="526.77" stroke="#c02a4c" stroke-width="0.9" />
<line x1="458.80" y1="530.90" x2="461.80" y2="530.90" stroke="#c02a4c" stroke-width="0.9" />
<rect x="473.40" y="510.62" width="2.6" height="2.6" fill="#c02a4c" fill-opacity="0.5"/>
<line x1="474.70" y1="510.55" x2="474.70" y2="513.30" stroke="#c02a4c" stroke-width="0.9" />
<line x1="473.20" y1="510.55" x2="476.20" y2="510.55" stroke="#c02a4c" stroke-width="0.9" />
<line x1="473.20" y1="513.30" x2="476.20" y2="513.30" stroke="#c02a4c" stroke-width="0.9" />
<circle cx="481.88" cy="510.20" r="1.3" fill="#34466e"/>
<circle cx="485.82" cy="510.20" r="1.3" fill="#34466e"/>
<circle cx="489.78" cy="510.20" r="1.3" fill="#34466e"/>
<circle cx="493.73" cy="510.20" r="1.3" fill="#34466e"/>
<circle cx="481.88" cy="516.00" r="1.3" fill="#d53a58"/>
<circle cx="485.82" cy="516.00" r="1.3" fill="#d53a58"/>
<circle cx="489.78" cy="516.00" r="1.3" fill="#d53a58"/>
<circle cx="493.73" cy="516.00" r="1.3" fill="#d53a58"/>
<circle cx="481.88" cy="523.70" r="1.3" fill="#2a5a8a"/>
<circle cx="485.82" cy="523.70" r="1.3" fill="#2a5a8a"/>
<circle cx="489.78" cy="523.70" r="1.3" fill="#2a5a8a"/>
<circle cx="493.73" cy="523.70" r="1.3" fill="#2a5a8a"/>
<line x1="64.40" y1="506.90" x2="64.40" y2="564.20" stroke="#141414" stroke-width="1.2" />
<line x1="61.50" y1="563.60" x2="64.40" y2="563.60" stroke="#141414" stroke-width="1.1" />
<text x="58.40" y="566.70" font-size="8.6" text-anchor="end" fill="#231f20" stroke="#231f20" stroke-width="0.25" textLength="4.60" lengthAdjust="spacingAndGlyphs">0</text>
<line x1="61.50" y1="552.62" x2="64.40" y2="552.62" stroke="#141414" stroke-width="1.1" />
<text x="58.40" y="555.72" font-size="8.6" text-anchor="end" fill="#231f20" stroke="#231f20" stroke-width="0.25" textLength="4.60" lengthAdjust="spacingAndGlyphs">2</text>
<line x1="61.50" y1="541.64" x2="64.40" y2="541.64" stroke="#141414" stroke-width="1.1" />
<text x="58.40" y="544.74" font-size="8.6" text-anchor="end" fill="#231f20" stroke="#231f20" stroke-width="0.25" textLength="4.60" lengthAdjust="spacingAndGlyphs">4</text>
<line x1="61.50" y1="530.66" x2="64.40" y2="530.66" stroke="#141414" stroke-width="1.1" />
<text x="58.40" y="533.76" font-size="8.6" text-anchor="end" fill="#231f20" stroke="#231f20" stroke-width="0.25" textLength="4.60" lengthAdjust="spacingAndGlyphs">6</text>
<line x1="61.50" y1="519.68" x2="64.40" y2="519.68" stroke="#141414" stroke-width="1.1" />
<text x="58.40" y="522.78" font-size="8.6" text-anchor="end" fill="#231f20" stroke="#231f20" stroke-width="0.25" textLength="4.60" lengthAdjust="spacingAndGlyphs">8</text>
<line x1="61.50" y1="508.70" x2="64.40" y2="508.70" stroke="#141414" stroke-width="1.1" />
<text x="58.40" y="511.80" font-size="8.6" text-anchor="end" fill="#231f20" stroke="#231f20" stroke-width="0.25" textLength="9.60" lengthAdjust="spacingAndGlyphs">10</text>
<line x1="63.80" y1="563.60" x2="165.70" y2="563.60" stroke="#141414" stroke-width="1.2" />
<text x="94.20" y="500.90" font-size="8.3" fill="#231f20" stroke="#231f20" stroke-width="0.25" font-style="italic" textLength="42.00" lengthAdjust="spacingAndGlyphs">ANGPTL7</text>
<line x1="71.00" y1="558.99" x2="71.00" y2="557.89" stroke="#6f6aa8" stroke-width="1.0" />
<line x1="68.90" y1="557.89" x2="73.10" y2="557.89" stroke="#6f6aa8" stroke-width="1.1" />
<rect x="67.30" y="558.79" width="7.40" height="4.81" fill="#948fcd" stroke="#6a6693" stroke-width="0.6"/>
<line x1="83.20" y1="551.75" x2="83.20" y2="550.15" stroke="#222" stroke-width="1.0" />
<line x1="81.10" y1="550.15" x2="85.30" y2="550.15" stroke="#222" stroke-width="1.1" />
<rect x="79.50" y="551.55" width="7.40" height="12.05" fill="#d0112b" stroke="#950c1e" stroke-width="0.6"/>
<line x1="83.20" y1="551.25" x2="83.20" y2="552.35" stroke="#b20e24" stroke-width="0.8" />
<line x1="81.40" y1="552.35" x2="85.00" y2="552.35" stroke="#b20e24" stroke-width="0.8" />
<line x1="107.90" y1="558.99" x2="107.90" y2="557.89" stroke="#6f6aa8" stroke-width="1.0" />
<line x1="105.80" y1="557.89" x2="110.00" y2="557.89" stroke="#6f6aa8" stroke-width="1.1" />
<rect x="104.20" y="558.79" width="7.40" height="4.81" fill="#948fcd" stroke="#6a6693" stroke-width="0.6"/>
<line x1="120.60" y1="521.55" x2="120.60" y2="514.74" stroke="#222" stroke-width="1.0" />
<line x1="118.50" y1="514.74" x2="122.70" y2="514.74" stroke="#222" stroke-width="1.1" />
<rect x="116.90" y="521.35" width="7.40" height="42.25" fill="#d0112b" stroke="#950c1e" stroke-width="0.6"/>
<line x1="120.60" y1="521.05" x2="120.60" y2="527.37" stroke="#b20e24" stroke-width="0.8" />
<line x1="118.80" y1="527.37" x2="122.40" y2="527.37" stroke="#b20e24" stroke-width="0.8" />
<line x1="145.30" y1="558.99" x2="145.30" y2="557.89" stroke="#6f6aa8" stroke-width="1.0" />
<line x1="143.20" y1="557.89" x2="147.40" y2="557.89" stroke="#6f6aa8" stroke-width="1.1" />
<rect x="141.60" y="558.79" width="7.40" height="4.81" fill="#948fcd" stroke="#6a6693" stroke-width="0.6"/>
<line x1="157.50" y1="522.65" x2="157.50" y2="519.41" stroke="#222" stroke-width="1.0" />
<line x1="155.40" y1="519.41" x2="159.60" y2="519.41" stroke="#222" stroke-width="1.1" />
<rect x="153.80" y="522.45" width="7.40" height="41.15" fill="#d0112b" stroke="#950c1e" stroke-width="0.6"/>
<line x1="157.50" y1="522.15" x2="157.50" y2="524.90" stroke="#b20e24" stroke-width="0.8" />
<line x1="155.70" y1="524.90" x2="159.30" y2="524.90" stroke="#b20e24" stroke-width="0.8" />
<circle cx="77.38" cy="546.50" r="1.22" fill="#222"/>
<circle cx="81.33" cy="546.50" r="1.22" fill="#222"/>
<circle cx="85.27" cy="546.50" r="1.22" fill="#222"/>
<circle cx="89.22" cy="546.50" r="1.22" fill="#222"/>
<circle cx="116.95" cy="510.70" r="1.22" fill="#222"/>
<circle cx="120.90" cy="510.70" r="1.22" fill="#222"/>
<circle cx="124.85" cy="510.70" r="1.22" fill="#222"/>
<circle cx="151.27" cy="516.00" r="1.22" fill="#222"/>
<circle cx="155.22" cy="516.00" r="1.22" fill="#222"/>
<circle cx="159.17" cy="516.00" r="1.22" fill="#222"/>
<circle cx="163.12" cy="516.00" r="1.22" fill="#222"/>
<rect x="67.00" y="512.30" width="9.50" height="5.40" fill="#948fcd" />
<rect x="67.00" y="522.60" width="9.50" height="5.50" fill="#d0112b" />
<text x="79.60" y="517.60" font-size="7.6" fill="#231f20" stroke="#231f20" stroke-width="0.25" textLength="18.40" lengthAdjust="spacingAndGlyphs">pLVX</text>
<text x="79.60" y="528.00" font-size="7.6" fill="#231f20" stroke="#231f20" stroke-width="0.25" textLength="32.60" lengthAdjust="spacingAndGlyphs">Flag-SP1</text>
<text x="53.50" y="574.40" font-size="8.6" fill="#231f20" stroke="#231f20" stroke-width="0.25" textLength="21.50" lengthAdjust="spacingAndGlyphs">Site: I</text>
<text x="112.00" y="574.40" font-size="8.6" fill="#231f20" stroke="#231f20" stroke-width="0.25" textLength="3.60" lengthAdjust="spacingAndGlyphs">II</text>
<text x="142.00" y="574.40" font-size="8.6" fill="#231f20" stroke="#231f20" stroke-width="0.25" textLength="17.70" lengthAdjust="spacingAndGlyphs">I + II</text>
<line x1="250.40" y1="506.90" x2="250.40" y2="564.20" stroke="#141414" stroke-width="1.2" />
<line x1="247.50" y1="563.60" x2="250.40" y2="563.60" stroke="#141414" stroke-width="1.1" />
<text x="244.40" y="566.70" font-size="8.6" text-anchor="end" fill="#231f20" stroke="#231f20" stroke-width="0.25" textLength="4.60" lengthAdjust="spacingAndGlyphs">0</text>
<line x1="247.50" y1="552.62" x2="250.40" y2="552.62" stroke="#141414" stroke-width="1.1" />
<text x="244.40" y="555.72" font-size="8.6" text-anchor="end" fill="#231f20" stroke="#231f20" stroke-width="0.25" textLength="4.60" lengthAdjust="spacingAndGlyphs">2</text>
<line x1="247.50" y1="541.64" x2="250.40" y2="541.64" stroke="#141414" stroke-width="1.1" />
<text x="244.40" y="544.74" font-size="8.6" text-anchor="end" fill="#231f20" stroke="#231f20" stroke-width="0.25" textLength="4.60" lengthAdjust="spacingAndGlyphs">4</text>
<line x1="247.50" y1="530.66" x2="250.40" y2="530.66" stroke="#141414" stroke-width="1.1" />
<text x="244.40" y="533.76" font-size="8.6" text-anchor="end" fill="#231f20" stroke="#231f20" stroke-width="0.25" textLength="4.60" lengthAdjust="spacingAndGlyphs">6</text>
<line x1="247.50" y1="519.68" x2="250.40" y2="519.68" stroke="#141414" stroke-width="1.1" />
<text x="244.40" y="522.78" font-size="8.6" text-anchor="end" fill="#231f20" stroke="#231f20" stroke-width="0.25" textLength="4.60" lengthAdjust="spacingAndGlyphs">8</text>
<line x1="247.50" y1="508.70" x2="250.40" y2="508.70" stroke="#141414" stroke-width="1.1" />
<text x="244.40" y="511.80" font-size="8.6" text-anchor="end" fill="#231f20" stroke="#231f20" stroke-width="0.25" textLength="9.60" lengthAdjust="spacingAndGlyphs">10</text>
<line x1="249.80" y1="563.60" x2="352.00" y2="563.60" stroke="#141414" stroke-width="1.2" />
<text x="281.00" y="500.90" font-size="8.3" fill="#231f20" stroke="#231f20" stroke-width="0.25" font-style="italic" textLength="41.60" lengthAdjust="spacingAndGlyphs">ANGPTL7</text>
<line x1="257.20" y1="558.99" x2="257.20" y2="557.89" stroke="#6f6aa8" stroke-width="1.0" />
<line x1="255.10" y1="557.89" x2="259.30" y2="557.89" stroke="#6f6aa8" stroke-width="1.1" />
<rect x="253.50" y="558.79" width="7.40" height="4.81" fill="#948fcd" stroke="#6a6693" stroke-width="0.6"/>
<line x1="269.50" y1="543.90" x2="269.50" y2="541.37" stroke="#222" stroke-width="1.0" />
<line x1="267.40" y1="541.37" x2="271.60" y2="541.37" stroke="#222" stroke-width="1.1" />
<rect x="265.80" y="543.70" width="7.40" height="19.90" fill="#d0112b" stroke="#950c1e" stroke-width="0.6"/>
<line x1="269.50" y1="543.40" x2="269.50" y2="545.43" stroke="#b20e24" stroke-width="0.8" />
<line x1="267.70" y1="545.43" x2="271.30" y2="545.43" stroke="#b20e24" stroke-width="0.8" />
<line x1="294.30" y1="558.99" x2="294.30" y2="557.89" stroke="#6f6aa8" stroke-width="1.0" />
<line x1="292.20" y1="557.89" x2="296.40" y2="557.89" stroke="#6f6aa8" stroke-width="1.1" />
<rect x="290.60" y="558.79" width="7.40" height="4.81" fill="#948fcd" stroke="#6a6693" stroke-width="0.6"/>
<line x1="306.40" y1="518.53" x2="306.40" y2="511.17" stroke="#222" stroke-width="1.0" />
<line x1="304.30" y1="511.17" x2="308.50" y2="511.17" stroke="#222" stroke-width="1.1" />
<rect x="302.70" y="518.33" width="7.40" height="45.27" fill="#d0112b" stroke="#950c1e" stroke-width="0.6"/>
<line x1="306.40" y1="518.03" x2="306.40" y2="524.90" stroke="#b20e24" stroke-width="0.8" />
<line x1="304.60" y1="524.90" x2="308.20" y2="524.90" stroke="#b20e24" stroke-width="0.8" />
<line x1="331.20" y1="558.99" x2="331.20" y2="557.89" stroke="#6f6aa8" stroke-width="1.0" />
<line x1="329.10" y1="557.89" x2="333.30" y2="557.89" stroke="#6f6aa8" stroke-width="1.1" />
<rect x="327.50" y="558.79" width="7.40" height="4.81" fill="#948fcd" stroke="#6a6693" stroke-width="0.6"/>
<line x1="343.80" y1="518.53" x2="343.80" y2="514.74" stroke="#222" stroke-width="1.0" />
<line x1="341.70" y1="514.74" x2="345.90" y2="514.74" stroke="#222" stroke-width="1.1" />
<rect x="340.10" y="518.33" width="7.40" height="45.27" fill="#d0112b" stroke="#950c1e" stroke-width="0.6"/>
<line x1="343.80" y1="518.03" x2="343.80" y2="521.33" stroke="#b20e24" stroke-width="0.8" />
<line x1="342.00" y1="521.33" x2="345.60" y2="521.33" stroke="#b20e24" stroke-width="0.8" />
<circle cx="263.27" cy="538.00" r="1.22" fill="#222"/>
<circle cx="267.22" cy="538.00" r="1.22" fill="#222"/>
<circle cx="271.18" cy="538.00" r="1.22" fill="#222"/>
<circle cx="275.12" cy="538.00" r="1.22" fill="#222"/>
<circle cx="302.45" cy="507.20" r="1.22" fill="#222"/>
<circle cx="306.40" cy="507.20" r="1.22" fill="#222"/>
<circle cx="310.35" cy="507.20" r="1.22" fill="#222"/>
<circle cx="337.57" cy="510.00" r="1.22" fill="#222"/>
<circle cx="341.52" cy="510.00" r="1.22" fill="#222"/>
<circle cx="345.48" cy="510.00" r="1.22" fill="#222"/>
<circle cx="349.43" cy="510.00" r="1.22" fill="#222"/>
<rect x="253.20" y="512.30" width="9.50" height="5.40" fill="#948fcd" />
<rect x="253.20" y="522.60" width="9.50" height="5.50" fill="#d0112b" />
<text x="265.80" y="517.60" font-size="7.6" fill="#231f20" stroke="#231f20" stroke-width="0.25" textLength="13.40" lengthAdjust="spacingAndGlyphs">IgG</text>
<text x="265.80" y="528.00" font-size="7.6" fill="#231f20" stroke="#231f20" stroke-width="0.25" textLength="30.70" lengthAdjust="spacingAndGlyphs">Anti-SP1</text>
<text x="198.50" y="574.40" font-size="8.6" fill="#231f20" stroke="#231f20" stroke-width="0.25" textLength="75.00" lengthAdjust="spacingAndGlyphs">Co-cultured: CD34</text>
<text x="282.70" y="574.40" font-size="8.6" fill="#231f20" stroke="#231f20" stroke-width="0.25" textLength="34.60" lengthAdjust="spacingAndGlyphs">Kasumi-1</text>
<text x="325.80" y="574.40" font-size="8.6" fill="#231f20" stroke="#231f20" stroke-width="0.25" textLength="22.70" lengthAdjust="spacingAndGlyphs">THP-1</text>
<text x="274.60" y="570.00" font-size="5.0" fill="#231f20" stroke="#231f20" stroke-width="0.25">+</text>
<text x="29.00" y="568.00" font-size="10" fill="#231f20" stroke="#231f20" stroke-width="0.25" textLength="66.50" lengthAdjust="spacingAndGlyphs" transform="rotate(-90 29.00 568.00)">Relative luciferase</text>
<text x="41.00" y="562.00" font-size="10" fill="#231f20" stroke="#231f20" stroke-width="0.25" textLength="54.00" lengthAdjust="spacingAndGlyphs" transform="rotate(-90 41.00 562.00)">activity in HS-5</text>
<text x="216.20" y="545.70" font-size="10" fill="#231f20" stroke="#231f20" stroke-width="0.25" textLength="20.90" lengthAdjust="spacingAndGlyphs" transform="rotate(-90 216.20 545.70)">Site II</text>
<text x="228.00" y="563.80" font-size="10" fill="#231f20" stroke="#231f20" stroke-width="0.25" textLength="57.60" lengthAdjust="spacingAndGlyphs" transform="rotate(-90 228.00 563.80)">% input in HS-5</text>
</g><rect x="0.5" y="0.5" width="519" height="602" fill="none" stroke="#4a4a4a" stroke-width="1"/>
</svg></body></html>
